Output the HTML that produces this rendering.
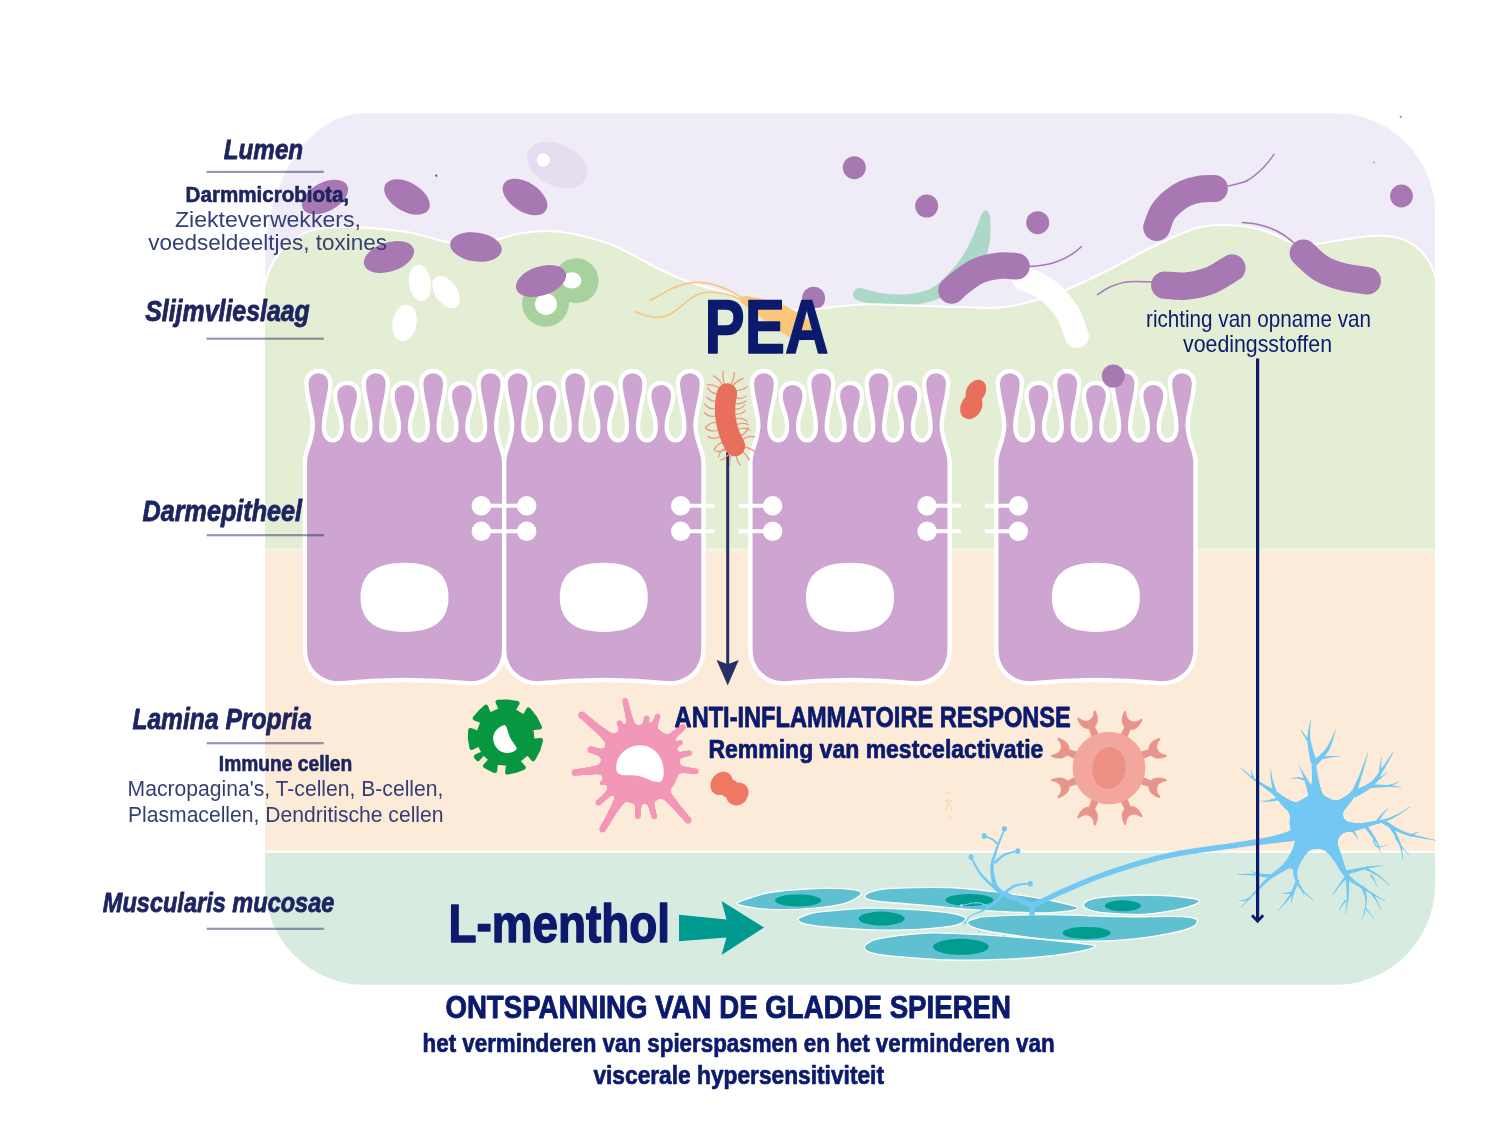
<!DOCTYPE html>
<html lang="nl"><head><meta charset="utf-8"><title>PEA en L-menthol in de darm</title>
<style>
html,body{margin:0;padding:0;background:#fff;}
body{width:1500px;height:1125px;overflow:hidden;font-family:"Liberation Sans",sans-serif;}
svg{display:block;}
text{font-family:"Liberation Sans",sans-serif;}
</style></head><body>
<svg width="1500" height="1125" viewBox="0 0 1500 1125">
<defs>
<filter id="soft" x="-5%" y="-5%" width="110%" height="110%"><feGaussianBlur stdDeviation="0.7"/></filter>
<mask id="panelmask" maskUnits="userSpaceOnUse" x="0" y="0" width="1500" height="1125">
<rect x="0" y="0" width="1500" height="1125" fill="#000"/>
<path d="M365 113.2 H1335 A100 100 0 0 1 1435 213.2 V884.8 A100 100 0 0 1 1335 984.8 H365 A100 100 0 0 1 265 884.8 V263 A100 150 0 0 1 365 113.2 Z" fill="#fff" filter="url(#soft)"/>
</mask>
<filter id="goo" x="-20%" y="-20%" width="140%" height="140%" color-interpolation-filters="sRGB"><feGaussianBlur in="SourceGraphic" stdDeviation="3.2" result="b"/><feColorMatrix in="b" mode="matrix" values="1 0 0 0 0  0 1 0 0 0  0 0 1 0 0  0 0 0 22 -10"/></filter>
<filter id="goo2" x="-20%" y="-20%" width="140%" height="140%" color-interpolation-filters="sRGB"><feGaussianBlur in="SourceGraphic" stdDeviation="2.2" result="b"/><feColorMatrix in="b" mode="matrix" values="1 0 0 0 0  0 1 0 0 0  0 0 1 0 0  0 0 0 22 -10"/></filter>
</defs>
<g mask="url(#panelmask)">
<rect x="250" y="100" width="1200" height="900" fill="#efebf7"/>
<circle cx="813.6" cy="298.2" r="11.5" fill="#a878b3"/>
<path d="M986.0 210.5 C987.3 210.7 988.9 213.1 989.6 215.0 C990.3 216.9 990.3 218.7 990.4 222.0 C990.5 225.3 990.5 230.7 990.2 235.0 C989.9 239.3 989.7 243.0 988.5 248.0 C987.3 253.0 986.1 259.3 983.0 265.0 C979.9 270.7 975.2 277.2 970.0 282.0 C964.8 286.8 957.3 291.2 952.0 294.0 C946.7 296.8 942.5 297.5 938.0 299.0 C933.5 300.5 931.0 301.5 925.3 302.8 C919.6 304.1 911.1 306.2 904.0 306.7 C896.9 307.2 889.0 306.2 882.7 305.6 C876.4 305.0 870.4 303.8 866.0 302.8 C861.6 301.8 858.7 301.2 856.5 299.8 C854.3 298.4 852.9 296.3 852.8 294.5 C852.7 292.7 854.6 290.2 856.0 289.2 C857.4 288.2 856.8 287.6 861.3 288.3 C865.8 289.0 875.6 292.3 882.7 293.3 C889.8 294.3 896.9 294.8 904.0 294.4 C911.1 294.0 920.0 292.2 925.3 290.7 C930.6 289.2 932.0 288.2 936.0 285.3 C940.0 282.4 945.1 277.1 949.0 273.0 C952.9 268.9 956.4 264.8 959.5 260.5 C962.6 256.2 965.2 251.8 967.5 247.5 C969.8 243.2 971.8 238.9 973.5 235.0 C975.2 231.1 976.6 227.5 978.0 224.0 C979.4 220.5 980.5 216.2 981.8 214.0 C983.1 211.8 984.7 210.3 986.0 210.5 Z" fill="#acd8c7"/>
<path d="M250.0 340.0 C251.8 334.2 258.6 313.7 261.0 305.0 C263.4 296.3 263.5 292.9 264.5 288.0 C265.5 283.1 265.9 279.4 267.0 275.8 C268.1 272.2 269.0 269.9 271.0 266.2 C273.0 262.5 276.3 257.0 279.0 253.4 C281.7 249.8 283.7 247.5 287.0 244.6 C290.3 241.7 295.0 238.1 299.0 235.8 C303.0 233.5 306.3 231.9 311.0 230.6 C315.7 229.3 321.3 228.4 327.0 227.8 C332.7 227.2 338.7 227.0 345.0 227.0 C351.3 227.0 354.2 226.7 365.0 227.6 C375.8 228.5 395.8 230.0 410.0 232.5 C424.2 235.0 438.0 240.7 450.0 242.5 C462.0 244.3 470.8 244.9 482.0 243.5 C493.2 242.1 505.7 236.1 517.0 234.0 C528.3 231.9 538.7 230.6 550.0 231.0 C561.3 231.4 573.8 233.8 585.0 236.5 C596.2 239.2 604.3 241.4 617.0 247.0 C629.7 252.6 648.7 264.1 661.0 270.0 C673.3 275.9 680.0 278.6 691.0 282.4 C702.0 286.2 715.5 289.6 727.0 293.0 C738.5 296.4 748.2 300.2 760.0 303.0 C771.8 305.8 784.7 309.5 798.0 310.0 C811.3 310.5 828.5 307.1 840.0 306.2 C851.5 305.2 858.4 304.5 866.7 304.3 C875.0 304.1 882.0 304.6 890.0 304.8 C898.0 305.0 905.2 305.3 914.7 305.6 C924.2 305.9 937.5 306.4 946.7 306.7 C955.9 307.0 962.5 307.0 970.0 307.2 C977.5 307.4 984.8 308.1 992.0 307.9 C999.2 307.6 1006.2 306.9 1013.3 305.7 C1020.4 304.4 1025.8 303.1 1034.7 300.4 C1043.6 297.7 1056.0 294.0 1066.7 289.7 C1077.4 285.4 1089.8 279.1 1098.7 274.8 C1107.6 270.5 1114.8 266.8 1120.0 264.1 C1125.2 261.4 1125.8 260.8 1130.0 258.6 C1134.2 256.4 1139.7 253.5 1145.0 250.8 C1150.3 248.1 1156.5 245.0 1162.0 242.4 C1167.5 239.8 1172.7 237.3 1178.0 235.0 C1183.3 232.7 1189.2 230.0 1194.0 228.5 C1198.8 227.0 1203.2 226.6 1207.0 226.0 C1210.8 225.4 1212.0 225.3 1217.0 225.2 C1222.0 225.1 1229.9 224.9 1236.7 225.5 C1243.5 226.1 1251.6 227.4 1258.0 229.0 C1264.4 230.6 1269.7 232.8 1275.0 235.0 C1280.3 237.2 1285.3 240.4 1290.0 242.0 C1294.7 243.6 1298.3 244.0 1303.0 244.3 C1307.7 244.6 1310.8 244.4 1318.0 243.6 C1325.2 242.8 1338.2 240.4 1346.0 239.2 C1353.8 238.0 1359.7 237.1 1365.0 236.5 C1370.3 235.9 1373.8 235.6 1378.0 235.6 C1382.2 235.6 1386.5 235.9 1390.0 236.4 C1393.5 236.9 1396.0 237.3 1399.3 238.3 C1402.6 239.3 1406.4 240.5 1410.0 242.6 C1413.6 244.7 1417.7 247.6 1421.0 251.0 C1424.3 254.4 1427.3 257.8 1430.0 263.0 C1432.7 268.2 1435.0 274.2 1437.0 282.0 C1439.0 289.8 1441.2 305.3 1442.0 310.0 V560 H255 Z" fill="#e4eed4" stroke="#ffffff" stroke-width="2.1"/>
<rect x="250" y="548.6" width="1200" height="3.4" fill="#f3f3e6"/>
<rect x="250" y="551.7" width="1200" height="299" fill="#fbebd8"/>
<rect x="250" y="850.5" width="1200" height="2.6" fill="#fdfcf8"/>
<rect x="250" y="852.9" width="1200" height="150" fill="#d7ebe1"/>
</g>
<g id="lumen">
<ellipse cx="557" cy="165" rx="32" ry="21" transform="rotate(25 557 165)" fill="#e6deef" />
<circle cx="543.5" cy="160" r="6.5" fill="#fff"/>
<ellipse cx="325" cy="197" rx="25" ry="14.5" transform="rotate(-28 325 197)" fill="#a878b3" />
<ellipse cx="407" cy="197" rx="25" ry="14.5" transform="rotate(30 407 197)" fill="#a878b3" />
<ellipse cx="525" cy="197" rx="25" ry="14.5" transform="rotate(33 525 197)" fill="#a878b3" />
<ellipse cx="389" cy="257" rx="26" ry="14.5" transform="rotate(-18 389 257)" fill="#a878b3" />
<ellipse cx="476" cy="247" rx="26" ry="14.5" transform="rotate(8 476 247)" fill="#a878b3" />
<ellipse cx="420" cy="283" rx="11" ry="18.5" transform="rotate(-8 420 283)" fill="#ffffff" />
<ellipse cx="446" cy="292" rx="11" ry="18" transform="rotate(-35 446 292)" fill="#ffffff" />
<ellipse cx="404.5" cy="323" rx="12" ry="18.5" transform="rotate(10 404.5 323)" fill="#ffffff" />
<circle cx="576.2" cy="280.8" r="22.5" fill="#a9d19d"/>
<circle cx="545.5" cy="303.3" r="23.4" fill="#a9d19d"/>
<ellipse cx="571.8" cy="280.4" rx="9.6" ry="8.1" transform="rotate(0 571.8 280.4)" fill="#fff" />
<ellipse cx="546" cy="304.3" rx="11" ry="10.7" transform="rotate(0 546 304.3)" fill="#fff" />
<path d="M435.2 174.6 l1.8 0.2 l0.4 1.6 l-1.7 0.4 z" fill="#3a4378"/>
<circle cx="1400.7" cy="116.8" r="1.1" fill="#8a8fb0"/><circle cx="1373.9" cy="162.6" r="1.0" fill="#a9a8c8"/>
<ellipse cx="541" cy="281" rx="26" ry="14.5" transform="rotate(-18 541 281)" fill="#a878b3" />
<circle cx="854.3" cy="167.7" r="11.5" fill="#a878b3"/>
<circle cx="926.7" cy="206" r="11.5" fill="#a878b3"/>
<circle cx="1037.7" cy="222.7" r="11.5" fill="#a878b3"/>
<circle cx="1401.5" cy="196" r="11.4" fill="#a878b3"/>
<path d="M1024.0 278.5 C1027.5 280.2 1038.2 283.1 1045.3 288.5 C1052.4 293.9 1061.2 303.1 1066.5 311.0 C1071.8 318.9 1075.1 331.8 1076.8 336.0" fill="none" stroke="#fff" stroke-width="24" stroke-linecap="round"/>
<path d="M1029 266.5 C1040 266 1050 264 1056 262 C1066 258.5 1075 253 1081.6 246.5" fill="none" stroke="#a878b3" stroke-width="1.5" stroke-linecap="round"/>
<path d="M951.5 290.5 C953.2 289.0 957.1 284.9 961.6 281.6 C966.1 278.3 972.3 273.3 978.7 270.6 C985.1 267.9 993.7 266.3 1000.0 265.6 C1006.3 264.9 1013.8 266.2 1016.5 266.3" fill="none" stroke="#a878b3" stroke-width="26.5" stroke-linecap="round"/>
<path d="M1228.0 186.0 C1231.2 185.1 1241.4 183.6 1247.3 180.5 C1253.2 177.4 1258.8 172.0 1263.3 167.7 C1267.8 163.3 1272.2 156.6 1274.0 154.4" fill="none" stroke="#a878b3" stroke-width="1.5" stroke-linecap="round"/>
<path d="M1156.7 227.5 C1157.8 224.9 1160.1 216.5 1163.0 212.0 C1165.9 207.5 1170.2 203.6 1174.0 200.5 C1177.8 197.4 1181.3 195.2 1185.5 193.3 C1189.7 191.4 1194.5 190.1 1199.3 189.3 C1204.1 188.5 1211.8 188.6 1214.3 188.5" fill="none" stroke="#a878b3" stroke-width="27" stroke-linecap="round"/>
<path d="M1152.0 281.9 C1147.7 281.9 1133.3 281.0 1126.3 281.9 C1119.3 282.8 1114.8 284.9 1110.0 287.0 C1105.2 289.1 1099.6 293.4 1097.5 294.7" fill="none" stroke="#a878b3" stroke-width="1.5" stroke-linecap="round"/>
<path d="M1164.7 285.1 C1168.2 285.3 1178.5 286.8 1186.0 286.1 C1193.5 285.4 1201.8 283.8 1209.5 280.8 C1217.2 277.8 1228.2 270.1 1231.9 268.0" fill="none" stroke="#a878b3" stroke-width="27.3" stroke-linecap="round"/>
<path d="M1242.5 222.6 C1245.1 222.9 1253.2 223.5 1258.0 224.5 C1262.8 225.5 1267.1 226.8 1271.3 228.5 C1275.5 230.2 1279.2 232.1 1283.0 234.5 C1286.8 236.9 1292.2 241.6 1294.0 243.0" fill="none" stroke="#a878b3" stroke-width="1.5" stroke-linecap="round"/>
<path d="M1303.3 253.1 C1306.2 255.6 1314.0 264.1 1320.4 268.0 C1326.8 271.9 1333.9 274.4 1341.7 276.5 C1349.5 278.6 1363.0 280.1 1367.3 280.8" fill="none" stroke="#a878b3" stroke-width="27.3" stroke-linecap="round"/>
<g fill="none" stroke="#f9c680" stroke-width="1.6" stroke-linecap="round">
<path d="M743 298.5 C730 290 715 283 700 282.4 C688 282 680 285 673 288 C664 292 658 297 650.2 300.2"/>
<path d="M741 299.5 C730 294 720 292 709 292.2 C700 292.5 696 295 691 298.4 C683 304 678 310 670 314.4 C664 317 658 318 652 317 C646 316 640 314 635 311.8"/>
</g>
<path d="M742.1 303.0 L742.9 303.7 L744.0 304.5 L745.3 305.5 L746.8 306.5 L748.3 307.7 L750.0 308.9 L751.6 310.1 L753.3 311.3 L754.9 312.6 L756.5 313.8 L758.1 315.1 L759.8 316.4 L761.5 317.8 L763.2 319.3 L765.0 320.7 L766.8 322.2 L768.5 323.7 L770.3 325.2 L772.0 326.7 L773.8 327.9 L775.7 329.0 L777.8 330.2 L779.9 331.4 L782.1 332.8 L784.2 334.1 L786.2 335.3 L788.1 336.5 L789.9 337.5 L791.3 338.5 L792.5 339.2 L805.5 317.8 L804.4 317.2 L803.0 316.3 L801.3 315.2 L799.4 314.0 L797.3 312.8 L795.1 311.4 L792.8 310.0 L790.5 308.7 L788.3 307.4 L786.2 306.1 L784.0 305.1 L781.7 304.3 L779.4 303.6 L777.1 302.9 L774.7 302.2 L772.4 301.5 L770.1 300.9 L767.8 300.3 L765.6 299.7 L763.5 299.2 L761.3 298.7 L759.1 298.2 L756.9 297.8 L754.8 297.4 L752.7 297.0 L750.7 296.7 L748.9 296.5 L747.4 296.3 L746.0 296.1 L744.9 296.0Z" fill="#fbc57a"/>
<circle cx="799" cy="328.5" r="12.5" fill="#fbc57a"/>
<circle cx="744.5" cy="300" r="3.8" fill="#fbc57a"/>
<ellipse cx="975.9" cy="391.6" rx="9.5" ry="12.6" transform="rotate(30 975.9 391.6)" fill="#e86f5c" />
<ellipse cx="971.3" cy="406.4" rx="10.4" ry="13.4" transform="rotate(30 971.3 406.4)" fill="#e86f5c" />
</g>
<g id="cells">
<path d="M304.90 649.50 L304.90 462 C304.90 450 311.90 444 312.90 426 C312.90 412.00 306.40 397.00 306.40 383.00 C306.40 376.37 311.77 371.00 318.40 371.00 C325.03 371.00 330.40 376.37 330.40 383.00 C330.40 397.00 323.90 412.00 323.90 426.00 C323.10 445.20 342.40 445.20 341.60 426.00 C341.60 412.00 335.10 408.80 335.10 394.80 C335.10 388.17 340.47 382.80 347.10 382.80 C353.73 382.80 359.10 388.17 359.10 394.80 C359.10 408.80 352.60 412.00 352.60 426.00 C351.80 445.20 371.10 445.20 370.30 426.00 C370.30 412.00 363.80 397.00 363.80 383.00 C363.80 376.37 369.17 371.00 375.80 371.00 C382.43 371.00 387.80 376.37 387.80 383.00 C387.80 397.00 381.30 412.00 381.30 426.00 C380.50 445.20 399.80 445.20 399.00 426.00 C399.00 412.00 392.50 408.80 392.50 394.80 C392.50 388.17 397.87 382.80 404.50 382.80 C411.13 382.80 416.50 388.17 416.50 394.80 C416.50 408.80 410.00 412.00 410.00 426.00 C409.20 445.20 428.50 445.20 427.70 426.00 C427.70 412.00 421.20 397.00 421.20 383.00 C421.20 376.37 426.57 371.00 433.20 371.00 C439.83 371.00 445.20 376.37 445.20 383.00 C445.20 397.00 438.70 412.00 438.70 426.00 C437.90 445.20 457.20 445.20 456.40 426.00 C456.40 412.00 449.90 408.80 449.90 394.80 C449.90 388.17 455.27 382.80 461.90 382.80 C468.53 382.80 473.90 388.17 473.90 394.80 C473.90 408.80 467.40 412.00 467.40 426.00 C466.60 445.20 485.90 445.20 485.10 426.00 C485.10 412.00 478.60 397.00 478.60 383.00 C478.60 376.37 483.97 371.00 490.60 371.00 C497.23 371.00 502.60 376.37 502.60 383.00 C502.60 397.00 496.10 412.00 496.10 426.00 C497.10 444 504.10 450 504.10 462 L504.10 649.50 C504.10 669.90 488.80 683.50 470.10 683.50 Q404.50 676.50 338.90 683.50 C320.20 683.50 304.90 669.90 304.90 649.50 Z" fill="#cda5d0" stroke="#ffffff" stroke-width="4.3" stroke-linejoin="round"/>
<path d="M360.5 597.3 C360.5 574.4639999999999 374.58 562.6999999999999 404.5 562.6999999999999 C434.42 562.6999999999999 448.5 574.4639999999999 448.5 597.3 C448.5 620.136 434.42 631.9 404.5 631.9 C374.58 631.9 360.5 620.136 360.5 597.3 Z" fill="#ffffff"/>
<path d="M504.20 649.50 L504.20 462 C504.20 450 511.20 444 512.20 426 C512.20 412.00 505.70 397.00 505.70 383.00 C505.70 376.37 511.07 371.00 517.70 371.00 C524.33 371.00 529.70 376.37 529.70 383.00 C529.70 397.00 523.20 412.00 523.20 426.00 C522.40 445.20 541.70 445.20 540.90 426.00 C540.90 412.00 534.40 408.80 534.40 394.80 C534.40 388.17 539.77 382.80 546.40 382.80 C553.03 382.80 558.40 388.17 558.40 394.80 C558.40 408.80 551.90 412.00 551.90 426.00 C551.10 445.20 570.40 445.20 569.60 426.00 C569.60 412.00 563.10 397.00 563.10 383.00 C563.10 376.37 568.47 371.00 575.10 371.00 C581.73 371.00 587.10 376.37 587.10 383.00 C587.10 397.00 580.60 412.00 580.60 426.00 C579.80 445.20 599.10 445.20 598.30 426.00 C598.30 412.00 591.80 408.80 591.80 394.80 C591.80 388.17 597.17 382.80 603.80 382.80 C610.43 382.80 615.80 388.17 615.80 394.80 C615.80 408.80 609.30 412.00 609.30 426.00 C608.50 445.20 627.80 445.20 627.00 426.00 C627.00 412.00 620.50 397.00 620.50 383.00 C620.50 376.37 625.87 371.00 632.50 371.00 C639.13 371.00 644.50 376.37 644.50 383.00 C644.50 397.00 638.00 412.00 638.00 426.00 C637.20 445.20 656.50 445.20 655.70 426.00 C655.70 412.00 649.20 408.80 649.20 394.80 C649.20 388.17 654.57 382.80 661.20 382.80 C667.83 382.80 673.20 388.17 673.20 394.80 C673.20 408.80 666.70 412.00 666.70 426.00 C665.90 445.20 685.20 445.20 684.40 426.00 C684.40 412.00 677.90 397.00 677.90 383.00 C677.90 376.37 683.27 371.00 689.90 371.00 C696.53 371.00 701.90 376.37 701.90 383.00 C701.90 397.00 695.40 412.00 695.40 426.00 C696.40 444 703.40 450 703.40 462 L703.40 649.50 C703.40 669.90 688.10 683.50 669.40 683.50 Q603.80 676.50 538.20 683.50 C519.50 683.50 504.20 669.90 504.20 649.50 Z" fill="#cda5d0" stroke="#ffffff" stroke-width="4.3" stroke-linejoin="round"/>
<path d="M559.8 597.3 C559.8 574.4639999999999 573.88 562.6999999999999 603.8 562.6999999999999 C633.7199999999999 562.6999999999999 647.8 574.4639999999999 647.8 597.3 C647.8 620.136 633.7199999999999 631.9 603.8 631.9 C573.88 631.9 559.8 620.136 559.8 597.3 Z" fill="#ffffff"/>
<path d="M750.40 649.50 L750.40 462 C750.40 450 757.40 444 758.40 426 C758.40 412.00 751.90 397.00 751.90 383.00 C751.90 376.37 757.27 371.00 763.90 371.00 C770.53 371.00 775.90 376.37 775.90 383.00 C775.90 397.00 769.40 412.00 769.40 426.00 C768.60 445.20 787.90 445.20 787.10 426.00 C787.10 412.00 780.60 408.80 780.60 394.80 C780.60 388.17 785.97 382.80 792.60 382.80 C799.23 382.80 804.60 388.17 804.60 394.80 C804.60 408.80 798.10 412.00 798.10 426.00 C797.30 445.20 816.60 445.20 815.80 426.00 C815.80 412.00 809.30 397.00 809.30 383.00 C809.30 376.37 814.67 371.00 821.30 371.00 C827.93 371.00 833.30 376.37 833.30 383.00 C833.30 397.00 826.80 412.00 826.80 426.00 C826.00 445.20 845.30 445.20 844.50 426.00 C844.50 412.00 838.00 408.80 838.00 394.80 C838.00 388.17 843.37 382.80 850.00 382.80 C856.63 382.80 862.00 388.17 862.00 394.80 C862.00 408.80 855.50 412.00 855.50 426.00 C854.70 445.20 874.00 445.20 873.20 426.00 C873.20 412.00 866.70 397.00 866.70 383.00 C866.70 376.37 872.07 371.00 878.70 371.00 C885.33 371.00 890.70 376.37 890.70 383.00 C890.70 397.00 884.20 412.00 884.20 426.00 C883.40 445.20 902.70 445.20 901.90 426.00 C901.90 412.00 895.40 408.80 895.40 394.80 C895.40 388.17 900.77 382.80 907.40 382.80 C914.03 382.80 919.40 388.17 919.40 394.80 C919.40 408.80 912.90 412.00 912.90 426.00 C912.10 445.20 931.40 445.20 930.60 426.00 C930.60 412.00 924.10 397.00 924.10 383.00 C924.10 376.37 929.47 371.00 936.10 371.00 C942.73 371.00 948.10 376.37 948.10 383.00 C948.10 397.00 941.60 412.00 941.60 426.00 C942.60 444 949.60 450 949.60 462 L949.60 649.50 C949.60 669.90 934.30 683.50 915.60 683.50 Q850.00 676.50 784.40 683.50 C765.70 683.50 750.40 669.90 750.40 649.50 Z" fill="#cda5d0" stroke="#ffffff" stroke-width="4.3" stroke-linejoin="round"/>
<path d="M806.0 597.3 C806.0 574.4639999999999 820.08 562.6999999999999 850.0 562.6999999999999 C879.92 562.6999999999999 894.0 574.4639999999999 894.0 597.3 C894.0 620.136 879.92 631.9 850.0 631.9 C820.08 631.9 806.0 620.136 806.0 597.3 Z" fill="#ffffff"/>
<path d="M996.30 649.50 L996.30 462 C996.30 450 1003.30 444 1004.30 426 C1004.30 412.00 997.80 397.00 997.80 383.00 C997.80 376.37 1003.17 371.00 1009.80 371.00 C1016.43 371.00 1021.80 376.37 1021.80 383.00 C1021.80 397.00 1015.30 412.00 1015.30 426.00 C1014.50 445.20 1033.80 445.20 1033.00 426.00 C1033.00 412.00 1026.50 408.80 1026.50 394.80 C1026.50 388.17 1031.87 382.80 1038.50 382.80 C1045.13 382.80 1050.50 388.17 1050.50 394.80 C1050.50 408.80 1044.00 412.00 1044.00 426.00 C1043.20 445.20 1062.50 445.20 1061.70 426.00 C1061.70 412.00 1055.20 397.00 1055.20 383.00 C1055.20 376.37 1060.57 371.00 1067.20 371.00 C1073.83 371.00 1079.20 376.37 1079.20 383.00 C1079.20 397.00 1072.70 412.00 1072.70 426.00 C1071.90 445.20 1091.20 445.20 1090.40 426.00 C1090.40 412.00 1083.90 408.80 1083.90 394.80 C1083.90 388.17 1089.27 382.80 1095.90 382.80 C1102.53 382.80 1107.90 388.17 1107.90 394.80 C1107.90 408.80 1101.40 412.00 1101.40 426.00 C1100.60 445.20 1119.90 445.20 1119.10 426.00 C1119.10 412.00 1112.60 397.00 1112.60 383.00 C1112.60 376.37 1117.97 371.00 1124.60 371.00 C1131.23 371.00 1136.60 376.37 1136.60 383.00 C1136.60 397.00 1130.10 412.00 1130.10 426.00 C1129.30 445.20 1148.60 445.20 1147.80 426.00 C1147.80 412.00 1141.30 408.80 1141.30 394.80 C1141.30 388.17 1146.67 382.80 1153.30 382.80 C1159.93 382.80 1165.30 388.17 1165.30 394.80 C1165.30 408.80 1158.80 412.00 1158.80 426.00 C1158.00 445.20 1177.30 445.20 1176.50 426.00 C1176.50 412.00 1170.00 397.00 1170.00 383.00 C1170.00 376.37 1175.37 371.00 1182.00 371.00 C1188.63 371.00 1194.00 376.37 1194.00 383.00 C1194.00 397.00 1187.50 412.00 1187.50 426.00 C1188.50 444 1195.50 450 1195.50 462 L1195.50 649.50 C1195.50 669.90 1180.20 683.50 1161.50 683.50 Q1095.90 676.50 1030.30 683.50 C1011.60 683.50 996.30 669.90 996.30 649.50 Z" fill="#cda5d0" stroke="#ffffff" stroke-width="4.3" stroke-linejoin="round"/>
<path d="M1051.8999999999999 597.3 C1051.8999999999999 574.4639999999999 1065.9799999999998 562.6999999999999 1095.8999999999999 562.6999999999999 C1125.82 562.6999999999999 1139.8999999999999 574.4639999999999 1139.8999999999999 597.3 C1139.8999999999999 620.136 1125.82 631.9 1095.8999999999999 631.9 C1065.9799999999998 631.9 1051.8999999999999 620.136 1051.8999999999999 597.3 Z" fill="#ffffff"/>
<line x1="481.3" y1="505.8" x2="526.7" y2="505.8" stroke="#fff" stroke-width="4.0"/>
<circle cx="481.3" cy="505.8" r="9.7" fill="#fff"/>
<circle cx="526.7" cy="505.8" r="9.7" fill="#fff"/>
<line x1="481.3" y1="531.3" x2="526.7" y2="531.3" stroke="#fff" stroke-width="4.0"/>
<circle cx="481.3" cy="531.3" r="9.7" fill="#fff"/>
<circle cx="526.7" cy="531.3" r="9.7" fill="#fff"/>
<line x1="680.7" y1="505.8" x2="714.5" y2="505.8" stroke="#fff" stroke-width="4.0"/>
<circle cx="680.7" cy="505.8" r="9.7" fill="#fff"/>
<line x1="680.7" y1="531.3" x2="714.5" y2="531.3" stroke="#fff" stroke-width="4.0"/>
<circle cx="680.7" cy="531.3" r="9.7" fill="#fff"/>
<line x1="738.7" y1="505.8" x2="772.6" y2="505.8" stroke="#fff" stroke-width="4.0"/>
<circle cx="772.6" cy="505.8" r="9.7" fill="#fff"/>
<line x1="738.7" y1="531.3" x2="772.6" y2="531.3" stroke="#fff" stroke-width="4.0"/>
<circle cx="772.6" cy="531.3" r="9.7" fill="#fff"/>
<line x1="927.1" y1="505.8" x2="961" y2="505.8" stroke="#fff" stroke-width="4.0"/>
<circle cx="927.1" cy="505.8" r="9.7" fill="#fff"/>
<line x1="927.1" y1="531.3" x2="961" y2="531.3" stroke="#fff" stroke-width="4.0"/>
<circle cx="927.1" cy="531.3" r="9.7" fill="#fff"/>
<line x1="985" y1="505.8" x2="1018.4" y2="505.8" stroke="#fff" stroke-width="4.0"/>
<circle cx="1018.4" cy="505.8" r="9.7" fill="#fff"/>
<line x1="985" y1="531.3" x2="1018.4" y2="531.3" stroke="#fff" stroke-width="4.0"/>
<circle cx="1018.4" cy="531.3" r="9.7" fill="#fff"/>
</g>
<line x1="727.7" y1="452" x2="727.7" y2="666" stroke="#263064" stroke-width="3.0"/>
<path d="M716.6 660 L727.7 664.3 L738.8 660 L727.7 685.4 Z" fill="#263064"/>
<g id="redbac">
<path d="M718.7 393.8 Q711.5 394.3 707.7 388.1 M734.4 397.1 Q740.2 400.3 746.0 396.2 M717.6 401.0 Q711.1 401.9 706.7 397.3 M733.5 402.8 Q740.5 405.3 746.0 401.1 M717.1 408.3 Q709.6 410.7 704.5 403.9 M733.1 408.5 Q739.6 410.8 744.6 404.9 M717.4 415.4 Q710.0 418.2 704.4 412.7 M733.3 414.1 Q740.6 415.1 745.3 410.6 M718.2 422.4 Q709.8 421.8 705.4 427.9 M734.0 419.7 Q741.0 416.4 747.1 421.2 M719.7 429.2 Q712.7 433.3 706.1 428.9 M735.2 425.2 Q742.2 421.8 748.4 424.6 M721.7 435.8 Q715.0 440.5 708.0 436.6 M736.8 430.6 Q743.0 425.9 749.9 430.3 M724.1 442.1 Q716.7 443.3 714.1 450.1 M738.8 435.7 Q746.0 435.1 748.0 427.5 M727.1 448.2 Q720.1 449.5 718.4 456.9 M741.2 440.6 Q747.6 435.1 754.6 436.9 M727 392 Q713.0 383.7 707.3 384.8 M727 392 Q719.0 377.8 713.5 375.9 M727 392 Q721.3 376.8 723.4 371.3 M727 392 Q735.3 378.0 734.2 372.3 M727 392 Q737.3 379.4 743.1 378.5 M727 392 Q743.2 390.8 747.3 386.6 M735 446 Q750.3 447.0 754.3 451.2 M735 446 Q747.7 454.5 749.1 460.1 M735 446 Q736.0 461.3 740.2 465.3 M735 446 Q728.2 459.7 729.8 465.3 M735 446 Q726.5 458.7 720.9 460.1 M735 446 Q721.3 452.8 715.7 451.2" fill="none" stroke="#ef9683" stroke-width="1.3" stroke-linecap="round"/>
<path d="M727 393.5 C722.5 412 726.5 431 735 446" fill="none" stroke="#e86f5c" stroke-width="20.5" stroke-linecap="round"/>
</g>
<circle cx="1113.3" cy="376" r="11.5" fill="#a878b3"/>
<g id="immune">
<path d="M470.4 730.2 L478.4 733.4 L483.1 721.3 L475.0 718.3 L480.2 712.3 L486.0 707.0 L489.2 715.0 L501.3 709.9 L497.9 702.0 L507.7 701.7 L517.3 703.3 L512.9 710.6 L524.3 717.2 L528.5 709.7 L535.1 717.9 L539.7 727.3 L531.1 727.9 L532.3 741.1 L540.8 740.2 L538.0 750.0 L533.2 759.0 L527.7 752.4 L517.7 761.1 L523.5 767.5 L515.7 770.5 L507.4 772.3 L508.5 763.8 L495.8 762.2 L494.9 770.8 L490.5 768.7 L485.3 765.9 L491.2 759.7 L483.6 752.6 L477.8 758.9 L477.1 757.7 L476.2 756.7 L484.0 753.0 L479.4 743.7 L471.7 747.6 L470.2 738.3 Z" fill="#069740" stroke="#069740" stroke-width="4.6" stroke-linejoin="round"/>
<path d="M504.8 725 C499 726 492.5 732 493.2 739.5 C494 748 501 753.5 508 753 C512 752.7 516 751 516.8 748.6 C516.5 746 512.5 742.5 510.1 737.4 C508 733 507.5 727 504.8 725 Z" fill="#fff"/>
<circle cx="640" cy="764.5" r="39.5" fill="#f397b8"/>
<circle cx="581.7" cy="715.0" r="3.58" fill="#f397b8"/>
<circle cx="625.1" cy="700.7" r="2.80" fill="#f397b8"/>
<circle cx="619.6" cy="723.1" r="2.91" fill="#f397b8"/>
<circle cx="646.6" cy="718.3" r="2.80" fill="#f397b8"/>
<circle cx="657.5" cy="716.6" r="2.80" fill="#f397b8"/>
<circle cx="682.6" cy="727.4" r="3.14" fill="#f397b8"/>
<circle cx="680.2" cy="742.5" r="2.58" fill="#f397b8"/>
<circle cx="689.2" cy="753.1" r="2.91" fill="#f397b8"/>
<circle cx="696.0" cy="771.3" r="2.80" fill="#f397b8"/>
<circle cx="688.1" cy="820.2" r="3.36" fill="#f397b8"/>
<circle cx="654.2" cy="816.2" r="2.91" fill="#f397b8"/>
<circle cx="637.8" cy="816.1" r="2.91" fill="#f397b8"/>
<circle cx="602.7" cy="829.1" r="3.36" fill="#f397b8"/>
<circle cx="598.4" cy="802.7" r="2.91" fill="#f397b8"/>
<circle cx="602.1" cy="783.0" r="2.35" fill="#f397b8"/>
<circle cx="575.0" cy="772.6" r="3.36" fill="#f397b8"/>
<circle cx="590.9" cy="749.7" r="3.36" fill="#f397b8"/>
<g filter="url(#goo2)"><circle cx="640" cy="764.5" r="39.5" fill="#f397b8"/><path d="M621.0 738.9 L619.3 738.0 L617.1 736.7 L614.4 735.1 L611.5 733.3 L608.5 731.3 L605.5 729.3 L602.8 727.3 L600.3 725.5 L598.0 723.7 L595.6 721.8 L593.2 719.9 L590.9 718.0 L588.8 716.3 L586.9 714.7 L585.3 713.3 L584.1 712.3 L579.4 717.8 L580.6 718.8 L582.2 720.1 L584.1 721.8 L586.2 723.6 L588.4 725.5 L590.7 727.6 L592.9 729.7 L595.1 731.7 L597.3 733.8 L599.7 736.2 L602.1 738.8 L604.6 741.4 L606.8 744.0 L608.8 746.4 L610.5 748.4 L611.7 749.9Z M638.7 733.0 L638.0 731.6 L637.2 729.8 L636.3 727.6 L635.3 725.2 L634.3 722.7 L633.4 720.1 L632.6 717.6 L631.9 715.4 L631.2 713.3 L630.6 711.1 L630.0 708.8 L629.4 706.7 L628.9 704.6 L628.5 702.8 L628.1 701.3 L627.9 700.1 L622.4 701.4 L622.7 702.5 L623.0 704.1 L623.4 705.9 L623.9 708.0 L624.4 710.1 L624.8 712.4 L625.2 714.7 L625.6 716.9 L626.0 719.2 L626.3 721.7 L626.6 724.5 L626.9 727.2 L627.1 729.8 L627.2 732.2 L627.2 734.2 L627.2 735.6Z M629.9 734.9 L629.5 734.3 L628.9 733.5 L628.2 732.6 L627.5 731.5 L626.8 730.4 L626.1 729.2 L625.5 728.2 L625.0 727.3 L624.5 726.4 L624.1 725.6 L623.7 724.8 L623.3 724.1 L623.0 723.4 L622.7 722.7 L622.4 722.2 L622.2 721.8 L617.0 724.4 L617.2 724.8 L617.4 725.3 L617.7 725.9 L618.1 726.6 L618.4 727.4 L618.8 728.2 L619.2 729.1 L619.6 729.9 L620.0 730.9 L620.5 732.0 L620.9 733.2 L621.4 734.5 L621.8 735.7 L622.2 736.8 L622.5 737.8 L622.7 738.5Z M648.7 734.4 L648.6 733.7 L648.5 732.7 L648.5 731.4 L648.4 730.1 L648.4 728.8 L648.5 727.4 L648.5 726.2 L648.6 725.1 L648.7 724.1 L648.8 723.1 L648.9 722.2 L649.0 721.3 L649.1 720.5 L649.2 719.8 L649.3 719.1 L649.4 718.7 L643.8 717.9 L643.8 718.3 L643.7 719.0 L643.6 719.7 L643.4 720.5 L643.3 721.4 L643.1 722.3 L643.0 723.3 L642.8 724.2 L642.5 725.3 L642.3 726.5 L641.9 727.8 L641.5 729.1 L641.1 730.4 L640.7 731.5 L640.4 732.5 L640.1 733.2Z M654.7 736.9 L654.9 736.0 L655.1 734.8 L655.4 733.3 L655.7 731.8 L656.1 730.1 L656.5 728.5 L657.0 727.0 L657.4 725.7 L657.8 724.5 L658.2 723.3 L658.6 722.1 L658.9 721.0 L659.3 719.9 L659.7 719.0 L659.9 718.2 L660.2 717.6 L654.9 715.7 L654.7 716.3 L654.4 717.1 L654.1 718.0 L653.7 719.0 L653.2 720.1 L652.8 721.3 L652.3 722.5 L651.8 723.7 L651.2 724.9 L650.6 726.3 L649.9 727.8 L649.1 729.3 L648.4 730.8 L647.7 732.1 L647.1 733.1 L646.6 733.9Z M667.3 748.6 L667.9 747.6 L668.8 746.3 L669.9 744.8 L671.2 743.2 L672.5 741.6 L673.9 740.0 L675.2 738.6 L676.5 737.3 L677.6 736.2 L678.8 735.0 L680.0 733.9 L681.2 732.8 L682.3 731.9 L683.2 731.0 L684.1 730.3 L684.7 729.7 L680.6 725.0 L679.9 725.5 L679.1 726.3 L678.1 727.1 L677.0 728.1 L675.8 729.1 L674.5 730.1 L673.2 731.1 L671.9 732.1 L670.5 733.1 L668.9 734.3 L667.1 735.4 L665.3 736.5 L663.6 737.6 L661.9 738.5 L660.5 739.2 L659.5 739.7Z M669.1 753.2 L669.7 752.7 L670.4 752.1 L671.3 751.3 L672.2 750.6 L673.3 749.8 L674.3 749.1 L675.3 748.4 L676.2 747.9 L677.0 747.4 L677.7 746.9 L678.5 746.4 L679.3 746.0 L680.0 745.6 L680.6 745.3 L681.1 745.0 L681.5 744.8 L679.0 740.3 L678.6 740.5 L678.1 740.8 L677.5 741.1 L676.8 741.5 L676.0 741.9 L675.2 742.3 L674.4 742.7 L673.6 743.1 L672.6 743.5 L671.5 744.0 L670.4 744.5 L669.2 744.9 L668.0 745.3 L666.9 745.7 L666.0 746.0 L665.3 746.1Z M671.2 761.7 L672.0 761.3 L673.1 760.9 L674.5 760.3 L675.9 759.8 L677.5 759.3 L679.1 758.7 L680.5 758.3 L681.8 757.9 L683.0 757.6 L684.2 757.3 L685.4 757.0 L686.5 756.7 L687.5 756.4 L688.4 756.2 L689.2 756.0 L689.8 755.9 L688.5 750.2 L687.9 750.4 L687.1 750.5 L686.2 750.8 L685.1 751.0 L684.0 751.2 L682.8 751.5 L681.6 751.7 L680.4 752.0 L679.1 752.2 L677.6 752.4 L676.0 752.7 L674.3 752.9 L672.8 753.0 L671.3 753.1 L670.1 753.2 L669.2 753.2Z M670.0 774.7 L671.1 774.4 L672.7 774.1 L674.5 773.8 L676.5 773.5 L678.6 773.3 L680.7 773.2 L682.7 773.1 L684.4 773.1 L686.0 773.2 L687.7 773.3 L689.3 773.4 L690.9 773.5 L692.4 773.7 L693.7 773.8 L694.8 773.9 L695.7 774.0 L696.4 768.5 L695.5 768.4 L694.4 768.2 L693.1 768.1 L691.6 767.9 L690.0 767.6 L688.4 767.3 L686.8 767.0 L685.2 766.7 L683.5 766.3 L681.6 765.8 L679.6 765.2 L677.6 764.5 L675.7 763.7 L674.0 763.0 L672.6 762.3 L671.6 761.8Z M655.3 792.2 L656.7 793.4 L658.6 794.9 L660.8 796.8 L663.3 798.9 L665.7 801.2 L668.1 803.5 L670.4 805.8 L672.4 807.8 L674.3 809.8 L676.3 811.9 L678.2 814.0 L680.1 816.1 L681.8 818.0 L683.3 819.8 L684.6 821.2 L685.6 822.4 L690.6 818.0 L689.7 816.8 L688.4 815.4 L686.9 813.6 L685.2 811.6 L683.4 809.5 L681.6 807.2 L679.8 805.0 L678.1 802.9 L676.4 800.6 L674.5 798.0 L672.6 795.3 L670.7 792.5 L668.9 789.8 L667.4 787.3 L666.2 785.2 L665.2 783.7Z M644.3 795.5 L644.7 796.4 L645.2 797.7 L645.8 799.2 L646.4 800.9 L647.1 802.6 L647.7 804.4 L648.2 806.0 L648.7 807.5 L649.1 808.9 L649.5 810.3 L649.9 811.7 L650.3 813.0 L650.7 814.2 L651.0 815.3 L651.2 816.3 L651.4 817.0 L657.0 815.4 L656.8 814.7 L656.6 813.8 L656.3 812.7 L656.0 811.4 L655.6 810.1 L655.2 808.7 L654.9 807.3 L654.5 805.9 L654.2 804.4 L653.8 802.7 L653.4 800.9 L653.1 799.0 L652.7 797.3 L652.5 795.7 L652.3 794.3 L652.1 793.3Z M634.7 795.3 L634.8 796.2 L634.9 797.5 L635.0 799.0 L635.0 800.7 L635.1 802.4 L635.1 804.1 L635.2 805.7 L635.2 807.1 L635.1 808.4 L635.1 809.7 L635.1 811.0 L635.1 812.3 L635.0 813.4 L635.0 814.4 L634.9 815.3 L634.9 816.0 L640.7 816.2 L640.8 815.6 L640.8 814.7 L640.8 813.7 L640.9 812.5 L641.0 811.3 L641.0 810.0 L641.1 808.7 L641.2 807.4 L641.3 806.0 L641.5 804.4 L641.7 802.7 L641.9 800.9 L642.1 799.3 L642.3 797.8 L642.6 796.6 L642.7 795.6Z M618.3 787.7 L617.7 789.5 L616.9 791.9 L615.9 794.7 L614.7 797.8 L613.4 801.0 L612.0 804.1 L610.7 807.1 L609.4 809.7 L608.1 812.3 L606.8 814.9 L605.4 817.4 L604.0 819.9 L602.7 822.3 L601.5 824.3 L600.5 826.1 L599.8 827.4 L605.6 830.8 L606.4 829.4 L607.4 827.7 L608.6 825.7 L609.9 823.4 L611.4 820.9 L613.0 818.4 L614.5 816.0 L616.1 813.6 L617.8 811.2 L619.6 808.5 L621.7 805.8 L623.8 803.0 L625.8 800.5 L627.8 798.2 L629.4 796.3 L630.7 794.9Z M614.0 782.1 L613.3 783.0 L612.4 784.2 L611.2 785.5 L610.0 787.1 L608.6 788.6 L607.2 790.1 L605.8 791.6 L604.6 792.8 L603.5 793.9 L602.3 795.1 L601.1 796.3 L600.0 797.4 L598.9 798.4 L597.9 799.3 L597.1 800.0 L596.5 800.6 L600.4 804.9 L601.0 804.3 L601.9 803.5 L602.8 802.7 L603.9 801.7 L605.1 800.6 L606.4 799.5 L607.6 798.4 L608.9 797.4 L610.2 796.3 L611.7 795.1 L613.3 793.8 L615.0 792.6 L616.6 791.4 L618.1 790.4 L619.4 789.5 L620.3 788.9Z M610.7 775.1 L610.2 775.4 L609.6 775.9 L608.9 776.4 L608.1 776.9 L607.3 777.5 L606.5 778.0 L605.7 778.5 L605.0 778.8 L604.4 779.2 L603.8 779.5 L603.2 779.8 L602.7 780.1 L602.2 780.3 L601.7 780.5 L601.4 780.7 L601.1 780.9 L603.1 785.1 L603.4 784.9 L603.8 784.8 L604.2 784.6 L604.7 784.3 L605.3 784.1 L605.9 783.8 L606.5 783.5 L607.1 783.2 L607.9 782.9 L608.7 782.6 L609.6 782.3 L610.6 781.9 L611.5 781.7 L612.3 781.4 L613.1 781.2 L613.6 781.1Z M608.4 761.8 L607.0 762.3 L605.1 763.0 L602.8 763.8 L600.2 764.5 L597.5 765.2 L594.8 765.9 L592.3 766.5 L590.0 766.9 L587.8 767.3 L585.6 767.7 L583.3 768.1 L581.2 768.4 L579.1 768.7 L577.3 768.9 L575.8 769.1 L574.6 769.3 L575.4 775.9 L576.6 775.8 L578.1 775.6 L580.0 775.4 L582.0 775.1 L584.2 774.9 L586.4 774.7 L588.7 774.5 L590.9 774.4 L593.3 774.3 L595.9 774.2 L598.6 774.2 L601.4 774.2 L604.1 774.3 L606.5 774.5 L608.5 774.7 L610.0 774.8Z M611.9 750.4 L610.9 750.4 L609.6 750.3 L608.1 750.1 L606.4 749.9 L604.7 749.7 L603.0 749.3 L601.4 749.0 L600.0 748.7 L598.8 748.4 L597.6 748.1 L596.4 747.8 L595.2 747.4 L594.2 747.1 L593.3 746.9 L592.5 746.6 L591.9 746.5 L589.9 752.9 L590.5 753.1 L591.3 753.3 L592.2 753.6 L593.3 753.9 L594.4 754.3 L595.6 754.7 L596.8 755.1 L598.0 755.5 L599.3 756.0 L600.8 756.6 L602.4 757.3 L603.9 758.0 L605.5 758.8 L606.8 759.5 L608.0 760.1 L608.8 760.6Z" fill="#f397b8"/></g>
<path d="M621.0 738.9 L619.3 738.0 L617.1 736.7 L614.4 735.1 L611.5 733.3 L608.5 731.3 L605.5 729.3 L602.8 727.3 L600.3 725.5 L598.0 723.7 L595.6 721.8 L593.2 719.9 L590.9 718.0 L588.8 716.3 L586.9 714.7 L585.3 713.3 L584.1 712.3 L579.4 717.8 L580.6 718.8 L582.2 720.1 L584.1 721.8 L586.2 723.6 L588.4 725.5 L590.7 727.6 L592.9 729.7 L595.1 731.7 L597.3 733.8 L599.7 736.2 L602.1 738.8 L604.6 741.4 L606.8 744.0 L608.8 746.4 L610.5 748.4 L611.7 749.9Z M638.7 733.0 L638.0 731.6 L637.2 729.8 L636.3 727.6 L635.3 725.2 L634.3 722.7 L633.4 720.1 L632.6 717.6 L631.9 715.4 L631.2 713.3 L630.6 711.1 L630.0 708.8 L629.4 706.7 L628.9 704.6 L628.5 702.8 L628.1 701.3 L627.9 700.1 L622.4 701.4 L622.7 702.5 L623.0 704.1 L623.4 705.9 L623.9 708.0 L624.4 710.1 L624.8 712.4 L625.2 714.7 L625.6 716.9 L626.0 719.2 L626.3 721.7 L626.6 724.5 L626.9 727.2 L627.1 729.8 L627.2 732.2 L627.2 734.2 L627.2 735.6Z M629.9 734.9 L629.5 734.3 L628.9 733.5 L628.2 732.6 L627.5 731.5 L626.8 730.4 L626.1 729.2 L625.5 728.2 L625.0 727.3 L624.5 726.4 L624.1 725.6 L623.7 724.8 L623.3 724.1 L623.0 723.4 L622.7 722.7 L622.4 722.2 L622.2 721.8 L617.0 724.4 L617.2 724.8 L617.4 725.3 L617.7 725.9 L618.1 726.6 L618.4 727.4 L618.8 728.2 L619.2 729.1 L619.6 729.9 L620.0 730.9 L620.5 732.0 L620.9 733.2 L621.4 734.5 L621.8 735.7 L622.2 736.8 L622.5 737.8 L622.7 738.5Z M648.7 734.4 L648.6 733.7 L648.5 732.7 L648.5 731.4 L648.4 730.1 L648.4 728.8 L648.5 727.4 L648.5 726.2 L648.6 725.1 L648.7 724.1 L648.8 723.1 L648.9 722.2 L649.0 721.3 L649.1 720.5 L649.2 719.8 L649.3 719.1 L649.4 718.7 L643.8 717.9 L643.8 718.3 L643.7 719.0 L643.6 719.7 L643.4 720.5 L643.3 721.4 L643.1 722.3 L643.0 723.3 L642.8 724.2 L642.5 725.3 L642.3 726.5 L641.9 727.8 L641.5 729.1 L641.1 730.4 L640.7 731.5 L640.4 732.5 L640.1 733.2Z M654.7 736.9 L654.9 736.0 L655.1 734.8 L655.4 733.3 L655.7 731.8 L656.1 730.1 L656.5 728.5 L657.0 727.0 L657.4 725.7 L657.8 724.5 L658.2 723.3 L658.6 722.1 L658.9 721.0 L659.3 719.9 L659.7 719.0 L659.9 718.2 L660.2 717.6 L654.9 715.7 L654.7 716.3 L654.4 717.1 L654.1 718.0 L653.7 719.0 L653.2 720.1 L652.8 721.3 L652.3 722.5 L651.8 723.7 L651.2 724.9 L650.6 726.3 L649.9 727.8 L649.1 729.3 L648.4 730.8 L647.7 732.1 L647.1 733.1 L646.6 733.9Z M667.3 748.6 L667.9 747.6 L668.8 746.3 L669.9 744.8 L671.2 743.2 L672.5 741.6 L673.9 740.0 L675.2 738.6 L676.5 737.3 L677.6 736.2 L678.8 735.0 L680.0 733.9 L681.2 732.8 L682.3 731.9 L683.2 731.0 L684.1 730.3 L684.7 729.7 L680.6 725.0 L679.9 725.5 L679.1 726.3 L678.1 727.1 L677.0 728.1 L675.8 729.1 L674.5 730.1 L673.2 731.1 L671.9 732.1 L670.5 733.1 L668.9 734.3 L667.1 735.4 L665.3 736.5 L663.6 737.6 L661.9 738.5 L660.5 739.2 L659.5 739.7Z M669.1 753.2 L669.7 752.7 L670.4 752.1 L671.3 751.3 L672.2 750.6 L673.3 749.8 L674.3 749.1 L675.3 748.4 L676.2 747.9 L677.0 747.4 L677.7 746.9 L678.5 746.4 L679.3 746.0 L680.0 745.6 L680.6 745.3 L681.1 745.0 L681.5 744.8 L679.0 740.3 L678.6 740.5 L678.1 740.8 L677.5 741.1 L676.8 741.5 L676.0 741.9 L675.2 742.3 L674.4 742.7 L673.6 743.1 L672.6 743.5 L671.5 744.0 L670.4 744.5 L669.2 744.9 L668.0 745.3 L666.9 745.7 L666.0 746.0 L665.3 746.1Z M671.2 761.7 L672.0 761.3 L673.1 760.9 L674.5 760.3 L675.9 759.8 L677.5 759.3 L679.1 758.7 L680.5 758.3 L681.8 757.9 L683.0 757.6 L684.2 757.3 L685.4 757.0 L686.5 756.7 L687.5 756.4 L688.4 756.2 L689.2 756.0 L689.8 755.9 L688.5 750.2 L687.9 750.4 L687.1 750.5 L686.2 750.8 L685.1 751.0 L684.0 751.2 L682.8 751.5 L681.6 751.7 L680.4 752.0 L679.1 752.2 L677.6 752.4 L676.0 752.7 L674.3 752.9 L672.8 753.0 L671.3 753.1 L670.1 753.2 L669.2 753.2Z M670.0 774.7 L671.1 774.4 L672.7 774.1 L674.5 773.8 L676.5 773.5 L678.6 773.3 L680.7 773.2 L682.7 773.1 L684.4 773.1 L686.0 773.2 L687.7 773.3 L689.3 773.4 L690.9 773.5 L692.4 773.7 L693.7 773.8 L694.8 773.9 L695.7 774.0 L696.4 768.5 L695.5 768.4 L694.4 768.2 L693.1 768.1 L691.6 767.9 L690.0 767.6 L688.4 767.3 L686.8 767.0 L685.2 766.7 L683.5 766.3 L681.6 765.8 L679.6 765.2 L677.6 764.5 L675.7 763.7 L674.0 763.0 L672.6 762.3 L671.6 761.8Z M655.3 792.2 L656.7 793.4 L658.6 794.9 L660.8 796.8 L663.3 798.9 L665.7 801.2 L668.1 803.5 L670.4 805.8 L672.4 807.8 L674.3 809.8 L676.3 811.9 L678.2 814.0 L680.1 816.1 L681.8 818.0 L683.3 819.8 L684.6 821.2 L685.6 822.4 L690.6 818.0 L689.7 816.8 L688.4 815.4 L686.9 813.6 L685.2 811.6 L683.4 809.5 L681.6 807.2 L679.8 805.0 L678.1 802.9 L676.4 800.6 L674.5 798.0 L672.6 795.3 L670.7 792.5 L668.9 789.8 L667.4 787.3 L666.2 785.2 L665.2 783.7Z M644.3 795.5 L644.7 796.4 L645.2 797.7 L645.8 799.2 L646.4 800.9 L647.1 802.6 L647.7 804.4 L648.2 806.0 L648.7 807.5 L649.1 808.9 L649.5 810.3 L649.9 811.7 L650.3 813.0 L650.7 814.2 L651.0 815.3 L651.2 816.3 L651.4 817.0 L657.0 815.4 L656.8 814.7 L656.6 813.8 L656.3 812.7 L656.0 811.4 L655.6 810.1 L655.2 808.7 L654.9 807.3 L654.5 805.9 L654.2 804.4 L653.8 802.7 L653.4 800.9 L653.1 799.0 L652.7 797.3 L652.5 795.7 L652.3 794.3 L652.1 793.3Z M634.7 795.3 L634.8 796.2 L634.9 797.5 L635.0 799.0 L635.0 800.7 L635.1 802.4 L635.1 804.1 L635.2 805.7 L635.2 807.1 L635.1 808.4 L635.1 809.7 L635.1 811.0 L635.1 812.3 L635.0 813.4 L635.0 814.4 L634.9 815.3 L634.9 816.0 L640.7 816.2 L640.8 815.6 L640.8 814.7 L640.8 813.7 L640.9 812.5 L641.0 811.3 L641.0 810.0 L641.1 808.7 L641.2 807.4 L641.3 806.0 L641.5 804.4 L641.7 802.7 L641.9 800.9 L642.1 799.3 L642.3 797.8 L642.6 796.6 L642.7 795.6Z M618.3 787.7 L617.7 789.5 L616.9 791.9 L615.9 794.7 L614.7 797.8 L613.4 801.0 L612.0 804.1 L610.7 807.1 L609.4 809.7 L608.1 812.3 L606.8 814.9 L605.4 817.4 L604.0 819.9 L602.7 822.3 L601.5 824.3 L600.5 826.1 L599.8 827.4 L605.6 830.8 L606.4 829.4 L607.4 827.7 L608.6 825.7 L609.9 823.4 L611.4 820.9 L613.0 818.4 L614.5 816.0 L616.1 813.6 L617.8 811.2 L619.6 808.5 L621.7 805.8 L623.8 803.0 L625.8 800.5 L627.8 798.2 L629.4 796.3 L630.7 794.9Z M614.0 782.1 L613.3 783.0 L612.4 784.2 L611.2 785.5 L610.0 787.1 L608.6 788.6 L607.2 790.1 L605.8 791.6 L604.6 792.8 L603.5 793.9 L602.3 795.1 L601.1 796.3 L600.0 797.4 L598.9 798.4 L597.9 799.3 L597.1 800.0 L596.5 800.6 L600.4 804.9 L601.0 804.3 L601.9 803.5 L602.8 802.7 L603.9 801.7 L605.1 800.6 L606.4 799.5 L607.6 798.4 L608.9 797.4 L610.2 796.3 L611.7 795.1 L613.3 793.8 L615.0 792.6 L616.6 791.4 L618.1 790.4 L619.4 789.5 L620.3 788.9Z M610.7 775.1 L610.2 775.4 L609.6 775.9 L608.9 776.4 L608.1 776.9 L607.3 777.5 L606.5 778.0 L605.7 778.5 L605.0 778.8 L604.4 779.2 L603.8 779.5 L603.2 779.8 L602.7 780.1 L602.2 780.3 L601.7 780.5 L601.4 780.7 L601.1 780.9 L603.1 785.1 L603.4 784.9 L603.8 784.8 L604.2 784.6 L604.7 784.3 L605.3 784.1 L605.9 783.8 L606.5 783.5 L607.1 783.2 L607.9 782.9 L608.7 782.6 L609.6 782.3 L610.6 781.9 L611.5 781.7 L612.3 781.4 L613.1 781.2 L613.6 781.1Z M608.4 761.8 L607.0 762.3 L605.1 763.0 L602.8 763.8 L600.2 764.5 L597.5 765.2 L594.8 765.9 L592.3 766.5 L590.0 766.9 L587.8 767.3 L585.6 767.7 L583.3 768.1 L581.2 768.4 L579.1 768.7 L577.3 768.9 L575.8 769.1 L574.6 769.3 L575.4 775.9 L576.6 775.8 L578.1 775.6 L580.0 775.4 L582.0 775.1 L584.2 774.9 L586.4 774.7 L588.7 774.5 L590.9 774.4 L593.3 774.3 L595.9 774.2 L598.6 774.2 L601.4 774.2 L604.1 774.3 L606.5 774.5 L608.5 774.7 L610.0 774.8Z M611.9 750.4 L610.9 750.4 L609.6 750.3 L608.1 750.1 L606.4 749.9 L604.7 749.7 L603.0 749.3 L601.4 749.0 L600.0 748.7 L598.8 748.4 L597.6 748.1 L596.4 747.8 L595.2 747.4 L594.2 747.1 L593.3 746.9 L592.5 746.6 L591.9 746.5 L589.9 752.9 L590.5 753.1 L591.3 753.3 L592.2 753.6 L593.3 753.9 L594.4 754.3 L595.6 754.7 L596.8 755.1 L598.0 755.5 L599.3 756.0 L600.8 756.6 L602.4 757.3 L603.9 758.0 L605.5 758.8 L606.8 759.5 L608.0 760.1 L608.8 760.6Z" fill="#f397b8"/>
<path d="M616.3 770 C615 757 625 745.8 639.7 745.3 C654 745 663 757 663.7 770 C664.2 778 662 782.5 658.3 782 C652 781.5 649 779.5 645 778 C640.5 776.3 636 775.5 631.7 775.3 C625 775 618 776.5 616.3 770 Z" fill="#fff"/>
<ellipse cx="721.6" cy="783.4" rx="10.4" ry="12.4" transform="rotate(38 721.6 783.4)" fill="#ee7861" />
<ellipse cx="737.4" cy="793.9" rx="10.6" ry="12.0" transform="rotate(38 737.4 793.9)" fill="#ee7861" />
<ellipse cx="729.5" cy="788.6" rx="9" ry="9.6" transform="rotate(38 729.5 788.6)" fill="#ee7861" />
<g transform="translate(1109 768) rotate(-113)"><path d="M30 -4.2 L47 -3 L47 3 L30 4.2 Z" fill="#e7958b"/><path d="M57.5 -9 C47.5 -9.5 44 -4.5 44 0 C44 4.5 47.5 9.5 57.5 9 C52.5 6.5 51 3.2 51 0 C51 -3.2 52.5 -6.5 57.5 -9 Z" fill="#e7958b" stroke="#e7958b" stroke-width="2" stroke-linejoin="round"/></g>
<g transform="translate(1109 768) rotate(-65)"><path d="M30 -4.2 L47 -3 L47 3 L30 4.2 Z" fill="#e7958b"/><path d="M57.5 -9 C47.5 -9.5 44 -4.5 44 0 C44 4.5 47.5 9.5 57.5 9 C52.5 6.5 51 3.2 51 0 C51 -3.2 52.5 -6.5 57.5 -9 Z" fill="#e7958b" stroke="#e7958b" stroke-width="2" stroke-linejoin="round"/></g>
<g transform="translate(1109 768) rotate(-21)"><path d="M30 -4.2 L47 -3 L47 3 L30 4.2 Z" fill="#e7958b"/><path d="M57.5 -9 C47.5 -9.5 44 -4.5 44 0 C44 4.5 47.5 9.5 57.5 9 C52.5 6.5 51 3.2 51 0 C51 -3.2 52.5 -6.5 57.5 -9 Z" fill="#e7958b" stroke="#e7958b" stroke-width="2" stroke-linejoin="round"/></g>
<g transform="translate(1109 768) rotate(21)"><path d="M30 -4.2 L47 -3 L47 3 L30 4.2 Z" fill="#e7958b"/><path d="M57.5 -9 C47.5 -9.5 44 -4.5 44 0 C44 4.5 47.5 9.5 57.5 9 C52.5 6.5 51 3.2 51 0 C51 -3.2 52.5 -6.5 57.5 -9 Z" fill="#e7958b" stroke="#e7958b" stroke-width="2" stroke-linejoin="round"/></g>
<g transform="translate(1109 768) rotate(65)"><path d="M30 -4.2 L47 -3 L47 3 L30 4.2 Z" fill="#e7958b"/><path d="M57.5 -9 C47.5 -9.5 44 -4.5 44 0 C44 4.5 47.5 9.5 57.5 9 C52.5 6.5 51 3.2 51 0 C51 -3.2 52.5 -6.5 57.5 -9 Z" fill="#e7958b" stroke="#e7958b" stroke-width="2" stroke-linejoin="round"/></g>
<g transform="translate(1109 768) rotate(113)"><path d="M30 -4.2 L47 -3 L47 3 L30 4.2 Z" fill="#e7958b"/><path d="M57.5 -9 C47.5 -9.5 44 -4.5 44 0 C44 4.5 47.5 9.5 57.5 9 C52.5 6.5 51 3.2 51 0 C51 -3.2 52.5 -6.5 57.5 -9 Z" fill="#e7958b" stroke="#e7958b" stroke-width="2" stroke-linejoin="round"/></g>
<g transform="translate(1109 768) rotate(159)"><path d="M30 -4.2 L47 -3 L47 3 L30 4.2 Z" fill="#e7958b"/><path d="M57.5 -9 C47.5 -9.5 44 -4.5 44 0 C44 4.5 47.5 9.5 57.5 9 C52.5 6.5 51 3.2 51 0 C51 -3.2 52.5 -6.5 57.5 -9 Z" fill="#e7958b" stroke="#e7958b" stroke-width="2" stroke-linejoin="round"/></g>
<g transform="translate(1109 768) rotate(201)"><path d="M30 -4.2 L47 -3 L47 3 L30 4.2 Z" fill="#e7958b"/><path d="M57.5 -9 C47.5 -9.5 44 -4.5 44 0 C44 4.5 47.5 9.5 57.5 9 C52.5 6.5 51 3.2 51 0 C51 -3.2 52.5 -6.5 57.5 -9 Z" fill="#e7958b" stroke="#e7958b" stroke-width="2" stroke-linejoin="round"/></g>
<circle cx="1109" cy="768" r="36.3" fill="#f2a69c"/>
<ellipse cx="1109" cy="768" rx="16.5" ry="21" transform="rotate(8 1109 768)" fill="#ee9083" />
<path d="M946 794 q3 -1.5 5 -1 M945 801 q4 -2 7 0 M948 801 q1 5 -3 9 M949 805 q3 2 3 6 M948 818 q2 0 3 -2" fill="none" stroke="#f8c98f" stroke-width="0.9" opacity="0.9"/>
</g>
<g id="neuron">
<g filter="url(#goo)"><path d="M1336.5 822.0 L1334.6 819.6 L1332.3 816.4 L1329.9 812.4 L1327.5 808.0 L1325.4 803.4 L1323.6 798.7 L1322.1 794.2 L1320.9 790.0 L1319.9 786.0 L1318.9 781.7 L1318.1 777.4 L1317.3 773.1 L1316.7 769.1 L1316.2 765.5 L1315.8 762.5 L1315.5 760.2 L1311.3 760.6 L1311.4 762.9 L1311.6 766.0 L1311.8 769.6 L1311.9 773.6 L1312.0 777.9 L1311.8 782.3 L1311.5 786.5 L1311.0 790.6 L1310.1 794.6 L1308.9 799.1 L1307.3 803.7 L1305.3 808.3 L1303.1 812.7 L1300.7 816.7 L1298.5 820.1 L1296.6 822.6Z M1328.1 838.6 L1329.2 834.8 L1331.1 829.9 L1333.8 824.5 L1337.2 819.0 L1340.9 813.9 L1344.7 809.2 L1348.3 805.0 L1351.1 801.5 L1353.3 798.6 L1354.9 796.1 L1356.1 793.8 L1357.0 791.7 L1357.7 789.6 L1358.3 787.4 L1358.9 785.1 L1359.8 782.4 L1360.8 779.0 L1362.0 775.1 L1363.2 770.9 L1364.4 766.5 L1365.5 762.4 L1366.5 758.6 L1367.4 755.4 L1368.1 753.1 L1367.5 752.9 L1366.7 755.1 L1365.6 758.3 L1364.3 762.0 L1362.8 766.0 L1361.3 770.2 L1359.7 774.3 L1358.1 778.0 L1356.6 781.2 L1355.4 783.8 L1354.4 786.0 L1353.5 787.9 L1352.6 789.6 L1351.6 791.1 L1350.3 792.7 L1348.5 794.3 L1346.1 796.2 L1342.6 798.3 L1338.1 800.5 L1332.7 802.5 L1326.8 804.3 L1320.6 805.4 L1314.6 806.0 L1309.2 806.1 L1305.1 806.0Z M1313.5 842.0 L1316.5 840.1 L1320.6 838.0 L1325.5 836.0 L1330.8 834.4 L1336.3 833.3 L1341.6 832.5 L1346.4 831.9 L1350.6 831.4 L1354.2 830.8 L1357.4 830.2 L1360.3 829.4 L1363.0 828.6 L1365.4 827.8 L1367.8 827.0 L1370.1 826.2 L1372.5 825.4 L1375.0 824.7 L1377.4 824.0 L1379.9 823.3 L1382.3 822.6 L1384.6 821.8 L1387.0 821.0 L1389.4 820.1 L1391.7 819.0 L1394.1 817.7 L1396.7 816.2 L1399.3 814.6 L1401.9 812.9 L1404.3 811.3 L1406.4 809.8 L1408.2 808.5 L1409.6 807.7 L1409.3 807.1 L1407.8 807.9 L1406.0 809.1 L1403.7 810.4 L1401.2 811.9 L1398.6 813.4 L1395.9 814.8 L1393.3 816.1 L1390.9 817.1 L1388.5 817.9 L1386.2 818.6 L1383.9 819.2 L1381.5 819.7 L1379.1 820.2 L1376.7 820.6 L1374.2 821.0 L1371.6 821.4 L1369.0 821.8 L1366.6 822.3 L1364.1 822.7 L1361.7 823.0 L1359.2 823.2 L1356.6 823.3 L1353.9 823.1 L1350.8 822.6 L1347.3 821.7 L1343.0 820.2 L1338.4 818.1 L1333.8 815.4 L1329.4 812.2 L1325.5 808.7 L1322.1 805.4 L1319.6 802.6Z M1299.5 832.6 L1302.8 834.1 L1307.0 836.2 L1311.7 839.0 L1316.3 842.3 L1320.8 846.0 L1324.9 849.7 L1328.4 853.4 L1331.2 856.6 L1333.3 859.4 L1335.2 862.1 L1336.8 864.7 L1338.3 867.3 L1339.8 869.9 L1341.3 872.4 L1343.1 874.8 L1345.1 877.2 L1347.4 879.3 L1349.8 881.2 L1352.3 883.0 L1354.9 884.6 L1357.4 886.1 L1360.0 887.5 L1362.6 889.0 L1365.1 890.5 L1367.7 892.0 L1370.5 893.6 L1373.5 895.2 L1376.4 896.8 L1379.1 898.3 L1381.5 899.6 L1383.6 900.7 L1385.1 901.6 L1385.5 901.0 L1384.0 900.1 L1382.0 898.9 L1379.6 897.4 L1377.0 895.8 L1374.2 894.0 L1371.4 892.2 L1368.7 890.4 L1366.3 888.6 L1363.9 886.9 L1361.5 885.3 L1359.0 883.6 L1356.7 881.9 L1354.4 880.1 L1352.3 878.2 L1350.4 876.3 L1348.6 874.2 L1347.2 872.0 L1346.1 869.7 L1345.1 867.3 L1344.2 864.7 L1343.3 861.8 L1342.4 858.7 L1341.3 855.3 L1340.0 851.7 L1338.5 847.5 L1337.0 842.6 L1335.6 837.1 L1334.4 831.4 L1333.7 825.7 L1333.3 820.3 L1333.4 815.6 L1333.7 812.0Z M1298.7 813.4 L1299.7 818.0 L1300.4 824.2 L1300.3 831.4 L1299.4 838.9 L1298.0 846.2 L1296.4 853.1 L1294.8 859.2 L1293.7 864.3 L1293.2 868.4 L1293.2 871.9 L1293.5 875.1 L1294.2 877.8 L1295.1 880.3 L1296.2 882.6 L1297.4 884.7 L1298.6 886.9 L1300.0 889.1 L1301.9 891.2 L1304.0 893.2 L1306.3 895.1 L1308.4 896.7 L1310.4 898.2 L1312.0 899.5 L1313.2 900.5 L1313.6 900.0 L1312.5 898.9 L1310.9 897.6 L1309.0 896.0 L1307.0 894.2 L1305.0 892.2 L1303.2 890.1 L1301.6 888.0 L1300.5 885.8 L1299.5 883.6 L1298.6 881.5 L1297.9 879.3 L1297.4 877.1 L1297.1 874.7 L1297.2 872.1 L1297.8 869.1 L1298.9 865.7 L1300.9 861.6 L1304.0 856.5 L1308.1 851.1 L1313.0 845.8 L1318.6 840.9 L1324.4 836.8 L1330.0 833.5 L1334.4 831.3Z M1299.8 811.5 L1299.8 816.0 L1299.5 822.0 L1298.7 828.6 L1297.3 835.5 L1295.3 842.2 L1292.9 848.5 L1290.4 853.9 L1288.0 858.2 L1285.6 861.5 L1283.2 864.2 L1280.7 866.6 L1278.2 868.7 L1275.7 870.6 L1273.2 872.5 L1270.8 874.4 L1268.5 876.5 L1266.4 878.6 L1264.4 880.6 L1262.5 882.6 L1260.8 884.5 L1259.1 886.4 L1257.4 888.3 L1255.8 890.2 L1254.0 892.1 L1252.2 894.2 L1250.3 896.3 L1248.4 898.6 L1246.4 900.8 L1244.6 902.9 L1243.0 904.7 L1241.6 906.3 L1240.6 907.5 L1241.1 907.9 L1242.1 906.8 L1243.6 905.3 L1245.3 903.5 L1247.2 901.5 L1249.3 899.4 L1251.3 897.3 L1253.4 895.3 L1255.3 893.4 L1257.2 891.6 L1259.0 889.8 L1260.8 888.0 L1262.6 886.3 L1264.5 884.5 L1266.5 882.8 L1268.5 881.0 L1270.8 879.1 L1273.1 877.4 L1275.6 875.9 L1278.2 874.4 L1281.0 872.8 L1284.0 871.0 L1287.2 868.9 L1290.5 866.3 L1294.0 863.3 L1297.9 859.5 L1302.4 855.0 L1307.4 850.2 L1312.9 845.5 L1318.6 841.1 L1324.3 837.5 L1329.4 834.8 L1333.4 833.1Z M1326.9 805.2 L1323.5 805.7 L1319.1 806.0 L1314.1 806.1 L1309.0 805.8 L1303.9 805.0 L1299.1 803.9 L1295.0 802.6 L1291.6 801.3 L1289.0 800.1 L1286.8 798.8 L1284.8 797.6 L1283.0 796.3 L1281.3 794.9 L1279.5 793.5 L1277.5 792.1 L1275.3 790.6 L1272.9 789.1 L1270.3 787.6 L1267.7 786.2 L1265.0 784.7 L1262.4 783.2 L1259.9 781.7 L1257.5 780.3 L1255.3 778.9 L1253.1 777.4 L1251.0 775.8 L1248.9 774.2 L1246.9 772.6 L1245.1 771.0 L1243.5 769.7 L1242.1 768.5 L1241.0 767.7 L1240.6 768.1 L1241.6 769.1 L1242.9 770.3 L1244.5 771.7 L1246.2 773.4 L1248.1 775.1 L1250.1 776.9 L1252.1 778.7 L1254.1 780.4 L1256.3 782.1 L1258.6 783.8 L1261.0 785.5 L1263.4 787.3 L1265.9 789.0 L1268.2 790.8 L1270.5 792.5 L1272.5 794.3 L1274.3 795.9 L1275.8 797.6 L1277.2 799.2 L1278.6 800.9 L1280.1 802.7 L1281.8 804.7 L1283.8 806.8 L1286.1 809.2 L1288.8 812.0 L1291.9 815.3 L1295.2 819.2 L1298.3 823.4 L1301.2 827.8 L1303.5 832.3 L1305.2 836.3 L1306.3 839.4Z" fill="#72c8f2"/><circle cx="1316.6" cy="822.3" r="27" fill="#72c8f2"/></g>
<path d="M1336.5 822.0 L1334.6 819.6 L1332.3 816.4 L1329.9 812.4 L1327.5 808.0 L1325.4 803.4 L1323.6 798.7 L1322.1 794.2 L1320.9 790.0 L1319.9 786.0 L1318.9 781.7 L1318.1 777.4 L1317.3 773.1 L1316.7 769.1 L1316.2 765.5 L1315.8 762.5 L1315.5 760.2 L1311.3 760.6 L1311.4 762.9 L1311.6 766.0 L1311.8 769.6 L1311.9 773.6 L1312.0 777.9 L1311.8 782.3 L1311.5 786.5 L1311.0 790.6 L1310.1 794.6 L1308.9 799.1 L1307.3 803.7 L1305.3 808.3 L1303.1 812.7 L1300.7 816.7 L1298.5 820.1 L1296.6 822.6Z M1316.4 760.8 L1315.9 759.1 L1315.1 756.7 L1314.3 754.0 L1313.3 751.0 L1312.4 747.8 L1311.6 744.7 L1310.9 741.7 L1310.4 739.0 L1310.2 736.4 L1310.1 733.7 L1310.1 730.9 L1310.2 728.2 L1310.4 725.6 L1310.6 723.3 L1310.7 721.4 L1310.8 719.9 L1310.4 719.9 L1310.1 721.3 L1309.7 723.2 L1309.2 725.4 L1308.7 728.0 L1308.2 730.7 L1307.8 733.5 L1307.5 736.4 L1307.4 739.2 L1307.5 742.1 L1307.8 745.3 L1308.2 748.7 L1308.7 752.0 L1309.3 755.2 L1309.7 758.0 L1310.1 760.4 L1310.4 762.2Z M1309.5 740.5 L1309.2 740.1 L1308.8 739.6 L1308.3 739.0 L1307.8 738.4 L1307.2 737.6 L1306.6 736.9 L1306.1 736.2 L1305.5 735.5 L1304.9 734.7 L1304.2 733.9 L1303.6 733.0 L1302.9 732.1 L1302.2 731.2 L1301.6 730.5 L1301.1 729.8 L1300.8 729.4 L1300.4 729.6 L1300.7 730.1 L1301.1 730.8 L1301.6 731.7 L1302.1 732.6 L1302.7 733.6 L1303.2 734.6 L1303.7 735.5 L1304.2 736.3 L1304.7 737.1 L1305.1 737.9 L1305.6 738.7 L1306.1 739.5 L1306.5 740.3 L1306.9 740.9 L1307.2 741.5 L1307.4 741.9Z M1316.2 765.8 L1317.1 764.7 L1318.4 763.4 L1320.0 761.7 L1321.8 759.7 L1323.7 757.6 L1325.5 755.4 L1327.2 753.1 L1328.7 750.7 L1330.0 748.1 L1331.1 745.2 L1332.2 742.2 L1333.2 739.1 L1334.1 736.1 L1334.8 733.4 L1335.5 731.2 L1336.0 729.6 L1335.6 729.4 L1334.9 731.0 L1333.9 733.1 L1332.8 735.6 L1331.5 738.4 L1330.1 741.3 L1328.7 744.1 L1327.2 746.7 L1325.8 748.8 L1324.2 750.7 L1322.4 752.6 L1320.4 754.4 L1318.4 756.2 L1316.4 757.8 L1314.6 759.2 L1313.1 760.5 L1311.9 761.4Z M1323.6 759.1 L1324.3 758.9 L1325.1 758.7 L1326.0 758.5 L1327.1 758.2 L1328.2 758.0 L1329.4 757.7 L1330.5 757.5 L1331.6 757.3 L1332.7 757.2 L1333.8 757.1 L1335.1 757.0 L1336.3 757.0 L1337.5 756.9 L1338.5 756.9 L1339.4 756.8 L1340.1 756.8 L1340.1 756.4 L1339.4 756.3 L1338.5 756.2 L1337.5 756.2 L1336.3 756.1 L1335.1 756.0 L1333.8 755.9 L1332.6 755.9 L1331.5 755.8 L1330.3 755.9 L1329.2 756.0 L1327.9 756.1 L1326.8 756.2 L1325.6 756.3 L1324.7 756.5 L1323.8 756.6 L1323.2 756.6Z M1317.7 794.8 L1316.7 793.4 L1315.5 791.5 L1313.9 789.2 L1312.3 786.7 L1310.6 784.1 L1308.9 781.5 L1307.4 779.0 L1306.1 776.9 L1304.9 775.0 L1303.7 773.2 L1302.6 771.4 L1301.6 769.7 L1300.6 768.1 L1299.8 766.7 L1299.1 765.5 L1298.6 764.6 L1298.3 764.8 L1298.7 765.7 L1299.3 767.0 L1299.9 768.5 L1300.7 770.1 L1301.4 772.0 L1302.2 773.9 L1302.9 776.0 L1303.6 778.1 L1304.3 780.4 L1305.1 783.1 L1306.0 786.1 L1306.8 789.1 L1307.5 792.0 L1308.2 794.7 L1308.7 797.0 L1309.1 798.6Z M1304.2 778.5 L1303.8 778.4 L1303.3 778.2 L1302.7 778.0 L1302.0 777.7 L1301.2 777.5 L1300.3 777.3 L1299.4 777.2 L1298.5 777.1 L1297.6 777.2 L1296.5 777.3 L1295.4 777.5 L1294.3 777.7 L1293.3 777.9 L1292.3 778.1 L1291.5 778.2 L1291.0 778.4 L1291.0 778.8 L1291.6 778.8 L1292.4 778.7 L1293.4 778.7 L1294.4 778.6 L1295.5 778.6 L1296.6 778.6 L1297.6 778.6 L1298.4 778.7 L1299.1 778.9 L1299.8 779.1 L1300.5 779.4 L1301.2 779.7 L1301.8 780.1 L1302.4 780.4 L1302.9 780.6 L1303.3 780.8Z M1328.1 838.6 L1329.2 834.8 L1331.1 829.9 L1333.8 824.5 L1337.2 819.0 L1340.9 813.9 L1344.7 809.2 L1348.3 805.0 L1351.1 801.5 L1353.3 798.6 L1354.9 796.1 L1356.1 793.8 L1357.0 791.7 L1357.7 789.6 L1358.3 787.4 L1358.9 785.1 L1359.8 782.4 L1360.8 779.0 L1362.0 775.1 L1363.2 770.9 L1364.4 766.5 L1365.5 762.4 L1366.5 758.6 L1367.4 755.4 L1368.1 753.1 L1367.5 752.9 L1366.7 755.1 L1365.6 758.3 L1364.3 762.0 L1362.8 766.0 L1361.3 770.2 L1359.7 774.3 L1358.1 778.0 L1356.6 781.2 L1355.4 783.8 L1354.4 786.0 L1353.5 787.9 L1352.6 789.6 L1351.6 791.1 L1350.3 792.7 L1348.5 794.3 L1346.1 796.2 L1342.6 798.3 L1338.1 800.5 L1332.7 802.5 L1326.8 804.3 L1320.6 805.4 L1314.6 806.0 L1309.2 806.1 L1305.1 806.0Z M1355.0 797.8 L1356.4 796.9 L1358.4 795.8 L1360.8 794.4 L1363.4 792.9 L1366.2 791.2 L1368.9 789.4 L1371.4 787.6 L1373.6 785.7 L1375.4 783.8 L1377.0 781.9 L1378.3 779.9 L1379.5 777.8 L1380.6 775.8 L1381.6 773.8 L1382.7 771.7 L1383.9 769.7 L1385.2 767.5 L1386.5 765.0 L1388.0 762.4 L1389.4 759.9 L1390.7 757.4 L1391.9 755.2 L1392.8 753.4 L1393.6 752.0 L1393.2 751.8 L1392.3 753.1 L1391.1 754.8 L1389.7 756.8 L1388.1 759.1 L1386.5 761.5 L1384.8 763.9 L1383.1 766.2 L1381.6 768.2 L1380.2 770.2 L1378.9 772.1 L1377.6 774.0 L1376.3 775.8 L1375.0 777.6 L1373.7 779.2 L1372.2 780.7 L1370.5 782.1 L1368.5 783.4 L1366.1 784.8 L1363.4 786.2 L1360.6 787.5 L1357.9 788.7 L1355.4 789.7 L1353.2 790.7 L1351.6 791.4Z M1381.2 774.4 L1381.2 773.6 L1381.2 772.6 L1381.2 771.4 L1381.2 770.0 L1381.2 768.6 L1381.2 767.2 L1381.2 765.9 L1381.3 764.8 L1381.3 763.7 L1381.4 762.6 L1381.5 761.5 L1381.6 760.4 L1381.7 759.4 L1381.8 758.6 L1381.8 757.8 L1381.9 757.3 L1381.5 757.2 L1381.3 757.7 L1381.2 758.5 L1381.0 759.3 L1380.8 760.3 L1380.6 761.3 L1380.3 762.4 L1380.1 763.5 L1379.9 764.6 L1379.8 765.8 L1379.6 767.1 L1379.4 768.5 L1379.2 769.9 L1379.1 771.2 L1378.9 772.5 L1378.8 773.5 L1378.7 774.2Z M1368.9 788.4 L1370.2 788.3 L1371.8 788.1 L1373.7 788.0 L1375.9 787.8 L1378.1 787.6 L1380.5 787.4 L1382.7 787.2 L1384.9 787.1 L1387.0 787.1 L1389.4 787.1 L1391.9 787.1 L1394.4 787.2 L1396.7 787.2 L1398.8 787.3 L1400.6 787.3 L1401.9 787.3 L1402.0 786.9 L1400.6 786.7 L1398.9 786.5 L1396.8 786.2 L1394.5 785.9 L1392.0 785.6 L1389.5 785.4 L1387.1 785.1 L1384.9 784.9 L1382.7 784.8 L1380.4 784.7 L1378.1 784.6 L1375.8 784.6 L1373.6 784.6 L1371.6 784.6 L1370.0 784.5 L1368.8 784.5Z M1388.4 787.1 L1388.8 786.9 L1389.3 786.7 L1390.0 786.5 L1390.7 786.2 L1391.4 785.9 L1392.2 785.6 L1393.0 785.3 L1393.7 785.0 L1394.4 784.6 L1395.1 784.2 L1395.9 783.8 L1396.6 783.3 L1397.3 782.9 L1397.9 782.5 L1398.5 782.2 L1398.8 782.0 L1398.7 781.6 L1398.2 781.7 L1397.7 782.0 L1397.0 782.3 L1396.2 782.6 L1395.4 782.9 L1394.6 783.2 L1393.9 783.5 L1393.2 783.7 L1392.5 783.9 L1391.7 784.1 L1390.9 784.3 L1390.1 784.5 L1389.4 784.6 L1388.7 784.8 L1388.2 784.9 L1387.8 785.0Z M1377.0 781.6 L1377.4 781.3 L1378.0 780.8 L1378.7 780.2 L1379.5 779.6 L1380.4 778.9 L1381.2 778.2 L1382.0 777.5 L1382.7 776.9 L1383.4 776.3 L1384.0 775.6 L1384.7 775.0 L1385.3 774.3 L1385.9 773.7 L1386.4 773.1 L1386.8 772.7 L1387.2 772.3 L1386.9 772.0 L1386.5 772.3 L1386.0 772.7 L1385.4 773.2 L1384.8 773.7 L1384.1 774.3 L1383.4 774.9 L1382.6 775.4 L1381.9 775.9 L1381.2 776.4 L1380.3 777.0 L1379.4 777.5 L1378.5 778.1 L1377.7 778.6 L1376.9 779.1 L1376.2 779.5 L1375.7 779.8Z M1313.5 842.0 L1316.5 840.1 L1320.6 838.0 L1325.5 836.0 L1330.8 834.4 L1336.3 833.3 L1341.6 832.5 L1346.4 831.9 L1350.6 831.4 L1354.2 830.8 L1357.4 830.2 L1360.3 829.4 L1363.0 828.6 L1365.4 827.8 L1367.8 827.0 L1370.1 826.2 L1372.5 825.4 L1375.0 824.7 L1377.4 824.0 L1379.9 823.3 L1382.3 822.6 L1384.6 821.8 L1387.0 821.0 L1389.4 820.1 L1391.7 819.0 L1394.1 817.7 L1396.7 816.2 L1399.3 814.6 L1401.9 812.9 L1404.3 811.3 L1406.4 809.8 L1408.2 808.5 L1409.6 807.7 L1409.3 807.1 L1407.8 807.9 L1406.0 809.1 L1403.7 810.4 L1401.2 811.9 L1398.6 813.4 L1395.9 814.8 L1393.3 816.1 L1390.9 817.1 L1388.5 817.9 L1386.2 818.6 L1383.9 819.2 L1381.5 819.7 L1379.1 820.2 L1376.7 820.6 L1374.2 821.0 L1371.6 821.4 L1369.0 821.8 L1366.6 822.3 L1364.1 822.7 L1361.7 823.0 L1359.2 823.2 L1356.6 823.3 L1353.9 823.1 L1350.8 822.6 L1347.3 821.7 L1343.0 820.2 L1338.4 818.1 L1333.8 815.4 L1329.4 812.2 L1325.5 808.7 L1322.1 805.4 L1319.6 802.6Z M1378.5 822.0 L1378.9 821.4 L1379.4 820.6 L1380.0 819.6 L1380.6 818.5 L1381.3 817.3 L1382.0 816.2 L1382.7 815.2 L1383.3 814.3 L1383.9 813.4 L1384.6 812.6 L1385.3 811.8 L1386.0 811.0 L1386.7 810.2 L1387.3 809.6 L1387.8 809.0 L1388.2 808.6 L1387.9 808.3 L1387.5 808.7 L1386.9 809.1 L1386.2 809.7 L1385.4 810.3 L1384.6 811.0 L1383.8 811.8 L1383.0 812.5 L1382.2 813.3 L1381.4 814.2 L1380.6 815.1 L1379.7 816.2 L1378.8 817.2 L1378.0 818.2 L1377.3 819.1 L1376.7 819.9 L1376.3 820.5Z M1381.6 823.2 L1383.2 824.0 L1385.2 825.2 L1387.7 826.7 L1390.5 828.2 L1393.5 829.9 L1396.8 831.5 L1400.2 833.0 L1403.6 834.3 L1407.5 835.4 L1411.8 836.4 L1416.5 837.3 L1421.3 838.2 L1425.9 839.0 L1430.0 839.6 L1433.5 840.2 L1436.1 840.7 L1436.1 840.2 L1433.6 839.6 L1430.2 838.8 L1426.1 837.8 L1421.6 836.7 L1416.9 835.5 L1412.4 834.3 L1408.1 833.0 L1404.5 831.7 L1401.4 830.3 L1398.2 828.6 L1395.2 826.9 L1392.4 825.1 L1389.8 823.3 L1387.4 821.7 L1385.4 820.4 L1383.9 819.3Z M1409.9 837.0 L1410.3 836.7 L1410.9 836.4 L1411.5 836.0 L1412.2 835.6 L1412.9 835.1 L1413.7 834.7 L1414.4 834.3 L1415.0 834.0 L1415.6 833.7 L1416.2 833.4 L1416.8 833.1 L1417.3 832.9 L1417.9 832.6 L1418.4 832.4 L1418.8 832.3 L1419.1 832.1 L1419.0 831.7 L1418.6 831.8 L1418.2 831.9 L1417.7 832.0 L1417.1 832.2 L1416.5 832.3 L1415.8 832.5 L1415.2 832.7 L1414.5 832.9 L1413.8 833.1 L1413.1 833.4 L1412.2 833.7 L1411.4 834.0 L1410.7 834.3 L1410.0 834.6 L1409.4 834.8 L1408.9 835.0Z M1388.6 826.4 L1389.5 827.8 L1390.7 829.6 L1392.1 831.8 L1393.6 834.2 L1395.1 836.7 L1396.6 839.3 L1397.9 841.7 L1398.9 844.0 L1399.7 846.2 L1400.4 848.6 L1401.0 851.0 L1401.5 853.4 L1401.9 855.7 L1402.3 857.7 L1402.5 859.5 L1402.8 860.8 L1403.2 860.7 L1403.1 859.4 L1402.9 857.6 L1402.8 855.6 L1402.5 853.3 L1402.2 850.8 L1401.9 848.2 L1401.4 845.7 L1400.7 843.3 L1399.8 840.9 L1398.7 838.3 L1397.4 835.5 L1396.1 832.8 L1394.7 830.3 L1393.5 828.0 L1392.5 826.1 L1391.8 824.6Z M1363.0 826.0 L1364.1 827.3 L1365.5 829.0 L1367.2 831.1 L1369.0 833.3 L1370.9 835.7 L1372.7 838.0 L1374.3 840.1 L1375.6 842.0 L1376.6 843.6 L1377.4 845.3 L1378.1 847.0 L1378.8 848.6 L1379.3 850.0 L1379.7 851.4 L1380.1 852.5 L1380.4 853.3 L1380.8 853.2 L1380.6 852.3 L1380.3 851.2 L1380.0 849.8 L1379.7 848.3 L1379.2 846.6 L1378.7 844.8 L1378.0 843.0 L1377.1 841.1 L1376.0 839.0 L1374.6 836.7 L1373.0 834.2 L1371.4 831.6 L1369.8 829.2 L1368.3 826.9 L1367.1 825.1 L1366.2 823.7Z M1348.3 827.6 L1348.8 828.1 L1349.4 828.7 L1350.1 829.5 L1350.8 830.4 L1351.6 831.3 L1352.4 832.2 L1353.2 833.1 L1353.8 833.9 L1354.5 834.7 L1355.1 835.5 L1355.7 836.3 L1356.3 837.1 L1356.8 837.8 L1357.3 838.5 L1357.7 839.1 L1358.0 839.5 L1358.4 839.3 L1358.2 838.8 L1357.9 838.2 L1357.5 837.4 L1357.1 836.6 L1356.7 835.7 L1356.2 834.7 L1355.8 833.8 L1355.3 832.9 L1354.8 832.0 L1354.2 831.0 L1353.6 829.9 L1353.0 828.9 L1352.3 827.8 L1351.8 826.9 L1351.3 826.2 L1351.0 825.6Z M1394.7 837.8 L1395.1 838.4 L1395.6 839.2 L1396.3 840.2 L1397.0 841.3 L1397.7 842.6 L1398.6 843.8 L1399.5 845.0 L1400.4 846.2 L1401.4 847.4 L1402.6 848.7 L1403.9 850.1 L1405.2 851.4 L1406.5 852.7 L1407.6 853.8 L1408.6 854.8 L1409.3 855.5 L1409.6 855.3 L1408.9 854.5 L1408.0 853.4 L1407.0 852.2 L1405.8 850.9 L1404.6 849.4 L1403.4 848.0 L1402.3 846.6 L1401.4 845.4 L1400.6 844.2 L1399.8 843.0 L1399.1 841.7 L1398.4 840.5 L1397.8 839.3 L1397.2 838.3 L1396.8 837.4 L1396.4 836.8Z M1372.4 839.7 L1372.7 840.3 L1373.0 841.2 L1373.5 842.3 L1374.0 843.5 L1374.6 844.7 L1375.3 845.9 L1376.2 846.8 L1377.2 847.4 L1378.5 847.6 L1379.9 847.4 L1381.5 847.1 L1383.1 846.6 L1384.7 846.1 L1386.1 845.6 L1387.3 845.2 L1388.1 844.9 L1388.0 844.5 L1387.1 844.7 L1385.9 845.1 L1384.5 845.5 L1382.9 845.9 L1381.3 846.2 L1379.8 846.5 L1378.5 846.5 L1377.6 846.3 L1376.9 845.9 L1376.3 845.1 L1375.7 844.1 L1375.3 843.0 L1374.8 841.8 L1374.5 840.7 L1374.2 839.7 L1373.9 839.1Z M1299.5 832.6 L1302.8 834.1 L1307.0 836.2 L1311.7 839.0 L1316.3 842.3 L1320.8 846.0 L1324.9 849.7 L1328.4 853.4 L1331.2 856.6 L1333.3 859.4 L1335.2 862.1 L1336.8 864.7 L1338.3 867.3 L1339.8 869.9 L1341.3 872.4 L1343.1 874.8 L1345.1 877.2 L1347.4 879.3 L1349.8 881.2 L1352.3 883.0 L1354.9 884.6 L1357.4 886.1 L1360.0 887.5 L1362.6 889.0 L1365.1 890.5 L1367.7 892.0 L1370.5 893.6 L1373.5 895.2 L1376.4 896.8 L1379.1 898.3 L1381.5 899.6 L1383.6 900.7 L1385.1 901.6 L1385.5 901.0 L1384.0 900.1 L1382.0 898.9 L1379.6 897.4 L1377.0 895.8 L1374.2 894.0 L1371.4 892.2 L1368.7 890.4 L1366.3 888.6 L1363.9 886.9 L1361.5 885.3 L1359.0 883.6 L1356.7 881.9 L1354.4 880.1 L1352.3 878.2 L1350.4 876.3 L1348.6 874.2 L1347.2 872.0 L1346.1 869.7 L1345.1 867.3 L1344.2 864.7 L1343.3 861.8 L1342.4 858.7 L1341.3 855.3 L1340.0 851.7 L1338.5 847.5 L1337.0 842.6 L1335.6 837.1 L1334.4 831.4 L1333.7 825.7 L1333.3 820.3 L1333.4 815.6 L1333.7 812.0Z M1346.6 874.8 L1348.3 874.3 L1350.6 873.6 L1353.4 872.8 L1356.4 871.9 L1359.5 870.9 L1362.6 870.0 L1365.5 869.2 L1368.0 868.6 L1370.2 868.0 L1372.4 867.6 L1374.6 867.2 L1376.6 866.8 L1378.4 866.5 L1380.1 866.3 L1381.5 866.0 L1382.6 865.9 L1382.5 865.4 L1381.4 865.5 L1380.0 865.6 L1378.4 865.6 L1376.5 865.7 L1374.4 865.9 L1372.2 866.1 L1369.9 866.3 L1367.6 866.6 L1365.0 867.0 L1362.1 867.5 L1358.9 868.0 L1355.6 868.6 L1352.5 869.2 L1349.6 869.8 L1347.3 870.2 L1345.5 870.5Z M1365.5 869.9 L1366.5 870.4 L1367.8 871.0 L1369.4 871.7 L1371.1 872.6 L1372.9 873.4 L1374.7 874.4 L1376.5 875.3 L1378.0 876.3 L1379.6 877.4 L1381.2 878.6 L1382.9 880.0 L1384.5 881.3 L1386.0 882.7 L1387.4 883.9 L1388.6 884.9 L1389.4 885.6 L1389.7 885.3 L1388.9 884.5 L1387.8 883.4 L1386.5 882.1 L1385.1 880.7 L1383.6 879.2 L1382.0 877.7 L1380.4 876.3 L1378.9 875.1 L1377.3 873.9 L1375.6 872.8 L1373.8 871.8 L1372.1 870.7 L1370.4 869.8 L1368.9 869.0 L1367.6 868.3 L1366.7 867.7Z M1370.2 875.3 L1370.5 875.8 L1370.9 876.4 L1371.4 877.1 L1372.0 878.0 L1372.5 878.8 L1373.1 879.7 L1373.7 880.5 L1374.1 881.3 L1374.6 882.0 L1375.0 882.8 L1375.5 883.6 L1375.9 884.4 L1376.3 885.2 L1376.7 885.9 L1377.0 886.4 L1377.2 886.9 L1377.6 886.7 L1377.4 886.2 L1377.2 885.6 L1376.9 884.9 L1376.6 884.1 L1376.2 883.3 L1375.9 882.4 L1375.5 881.5 L1375.1 880.7 L1374.7 879.9 L1374.3 879.0 L1373.8 878.1 L1373.3 877.1 L1372.9 876.3 L1372.4 875.5 L1372.1 874.8 L1371.8 874.3Z M1360.9 886.9 L1361.3 887.8 L1361.8 889.0 L1362.4 890.4 L1363.1 892.0 L1363.7 893.6 L1364.3 895.3 L1364.8 896.8 L1365.2 898.2 L1365.4 899.5 L1365.4 901.0 L1365.4 902.4 L1365.3 903.9 L1365.2 905.2 L1365.1 906.5 L1365.0 907.5 L1364.9 908.3 L1365.6 908.4 L1365.7 907.6 L1365.9 906.6 L1366.2 905.4 L1366.5 904.0 L1366.7 902.5 L1366.9 901.0 L1367.0 899.5 L1367.0 898.0 L1366.8 896.4 L1366.5 894.7 L1366.1 892.9 L1365.6 891.1 L1365.1 889.5 L1364.7 888.0 L1364.3 886.7 L1364.0 885.8Z M1364.6 907.5 L1364.5 908.1 L1364.3 908.9 L1364.2 909.9 L1364.0 910.9 L1363.8 912.0 L1363.6 913.1 L1363.3 914.1 L1363.1 915.0 L1362.9 915.9 L1362.6 916.7 L1362.3 917.6 L1362.0 918.4 L1361.7 919.1 L1361.4 919.8 L1361.2 920.4 L1361.0 920.8 L1361.4 921.0 L1361.6 920.6 L1361.9 920.0 L1362.2 919.4 L1362.5 918.6 L1362.9 917.8 L1363.3 917.0 L1363.6 916.1 L1363.9 915.3 L1364.2 914.4 L1364.5 913.3 L1364.8 912.3 L1365.1 911.2 L1365.4 910.1 L1365.6 909.2 L1365.8 908.4 L1365.9 907.8Z M1364.7 908.1 L1365.0 908.5 L1365.5 909.0 L1366.0 909.7 L1366.6 910.4 L1367.3 911.1 L1367.9 911.9 L1368.6 912.6 L1369.2 913.3 L1369.8 914.0 L1370.4 914.7 L1371.1 915.4 L1371.8 916.1 L1372.4 916.8 L1373.0 917.4 L1373.5 917.9 L1373.8 918.3 L1374.2 918.0 L1373.8 917.6 L1373.4 917.1 L1372.8 916.4 L1372.3 915.7 L1371.6 914.9 L1371.0 914.2 L1370.4 913.4 L1369.9 912.7 L1369.3 912.0 L1368.7 911.2 L1368.1 910.5 L1367.6 909.7 L1367.0 908.9 L1366.5 908.2 L1366.1 907.7 L1365.8 907.3Z M1370.1 893.0 L1370.5 893.5 L1371.1 894.3 L1371.8 895.2 L1372.6 896.2 L1373.4 897.3 L1374.3 898.4 L1375.0 899.5 L1375.8 900.6 L1376.4 901.7 L1377.2 902.9 L1377.9 904.3 L1378.6 905.6 L1379.3 906.9 L1379.9 908.0 L1380.5 909.0 L1380.8 909.7 L1381.2 909.5 L1380.9 908.8 L1380.5 907.8 L1380.0 906.6 L1379.4 905.2 L1378.8 903.8 L1378.2 902.4 L1377.5 901.1 L1376.9 899.9 L1376.3 898.7 L1375.6 897.5 L1374.9 896.3 L1374.1 895.1 L1373.4 894.1 L1372.8 893.1 L1372.3 892.3 L1371.9 891.7Z M1345.4 875.3 L1344.7 876.2 L1343.9 877.4 L1342.8 878.9 L1341.7 880.6 L1340.5 882.3 L1339.4 884.0 L1338.3 885.6 L1337.4 887.0 L1336.5 888.3 L1335.7 889.5 L1334.8 890.8 L1334.1 891.9 L1333.4 893.0 L1332.7 894.0 L1332.2 894.8 L1331.8 895.4 L1332.1 895.6 L1332.6 895.1 L1333.2 894.3 L1333.9 893.4 L1334.7 892.4 L1335.6 891.3 L1336.6 890.2 L1337.5 889.0 L1338.5 887.8 L1339.6 886.5 L1340.8 885.1 L1342.1 883.5 L1343.4 881.9 L1344.7 880.4 L1345.9 879.0 L1346.9 877.8 L1347.6 876.9Z M1345.5 877.9 L1345.6 879.4 L1345.8 881.4 L1346.0 883.8 L1346.2 886.4 L1346.5 889.2 L1346.6 891.9 L1346.7 894.6 L1346.8 897.0 L1346.7 899.3 L1346.5 901.7 L1346.3 904.2 L1346.1 906.7 L1345.8 909.0 L1345.5 911.0 L1345.3 912.7 L1345.2 914.1 L1345.6 914.1 L1345.9 912.8 L1346.2 911.1 L1346.7 909.1 L1347.1 906.8 L1347.6 904.4 L1348.0 901.9 L1348.4 899.4 L1348.7 897.1 L1348.9 894.6 L1349.0 891.9 L1349.1 889.1 L1349.1 886.3 L1349.1 883.6 L1349.1 881.2 L1349.1 879.2 L1349.1 877.7Z M1345.4 899.7 L1345.1 900.1 L1344.7 900.7 L1344.1 901.3 L1343.6 902.1 L1343.0 902.9 L1342.4 903.7 L1341.8 904.5 L1341.3 905.3 L1340.9 906.0 L1340.4 906.8 L1339.9 907.7 L1339.5 908.5 L1339.1 909.3 L1338.7 910.0 L1338.4 910.5 L1338.2 911.0 L1338.5 911.2 L1338.8 910.8 L1339.2 910.2 L1339.6 909.6 L1340.1 908.8 L1340.6 908.1 L1341.1 907.3 L1341.7 906.5 L1342.2 905.8 L1342.7 905.2 L1343.3 904.4 L1344.0 903.7 L1344.7 903.0 L1345.3 902.3 L1345.8 901.7 L1346.3 901.1 L1346.7 900.7Z M1298.7 813.4 L1299.7 818.0 L1300.4 824.2 L1300.3 831.4 L1299.4 838.9 L1298.0 846.2 L1296.4 853.1 L1294.8 859.2 L1293.7 864.3 L1293.2 868.4 L1293.2 871.9 L1293.5 875.1 L1294.2 877.8 L1295.1 880.3 L1296.2 882.6 L1297.4 884.7 L1298.6 886.9 L1300.0 889.1 L1301.9 891.2 L1304.0 893.2 L1306.3 895.1 L1308.4 896.7 L1310.4 898.2 L1312.0 899.5 L1313.2 900.5 L1313.6 900.0 L1312.5 898.9 L1310.9 897.6 L1309.0 896.0 L1307.0 894.2 L1305.0 892.2 L1303.2 890.1 L1301.6 888.0 L1300.5 885.8 L1299.5 883.6 L1298.6 881.5 L1297.9 879.3 L1297.4 877.1 L1297.1 874.7 L1297.2 872.1 L1297.8 869.1 L1298.9 865.7 L1300.9 861.6 L1304.0 856.5 L1308.1 851.1 L1313.0 845.8 L1318.6 840.9 L1324.4 836.8 L1330.0 833.5 L1334.4 831.3Z M1296.2 879.2 L1295.8 880.3 L1295.2 881.9 L1294.6 883.7 L1293.8 885.8 L1293.0 887.9 L1292.1 890.1 L1291.1 892.2 L1290.0 894.2 L1288.7 896.3 L1287.1 898.6 L1285.4 901.0 L1283.6 903.4 L1281.9 905.7 L1280.3 907.7 L1279.0 909.5 L1278.0 910.7 L1278.3 911.0 L1279.4 909.8 L1280.9 908.2 L1282.7 906.3 L1284.6 904.2 L1286.6 902.0 L1288.6 899.7 L1290.4 897.6 L1292.0 895.5 L1293.3 893.5 L1294.6 891.3 L1295.7 889.2 L1296.8 887.1 L1297.7 885.1 L1298.6 883.3 L1299.2 881.8 L1299.8 880.7Z M1291.3 891.6 L1290.9 891.7 L1290.5 891.8 L1289.9 891.9 L1289.2 892.0 L1288.6 892.1 L1287.9 892.3 L1287.2 892.4 L1286.6 892.5 L1286.0 892.7 L1285.4 892.8 L1284.8 893.0 L1284.2 893.1 L1283.7 893.3 L1283.2 893.4 L1282.7 893.5 L1282.4 893.6 L1282.5 894.0 L1282.8 894.0 L1283.2 894.0 L1283.8 893.9 L1284.3 893.9 L1285.0 893.9 L1285.6 893.8 L1286.2 893.8 L1286.8 893.8 L1287.4 893.8 L1288.0 893.8 L1288.7 893.8 L1289.4 893.8 L1290.0 893.8 L1290.6 893.8 L1291.1 893.8 L1291.5 893.9Z M1292.5 891.4 L1292.4 891.9 L1292.3 892.6 L1292.1 893.4 L1292.0 894.3 L1291.8 895.3 L1291.7 896.2 L1291.6 897.1 L1291.4 897.9 L1291.3 898.7 L1291.2 899.5 L1291.1 900.3 L1291.0 901.1 L1291.0 901.8 L1290.9 902.4 L1290.8 903.0 L1290.8 903.4 L1291.2 903.5 L1291.3 903.1 L1291.4 902.5 L1291.6 901.9 L1291.8 901.2 L1292.0 900.5 L1292.2 899.7 L1292.4 898.9 L1292.6 898.2 L1292.9 897.4 L1293.1 896.6 L1293.4 895.7 L1293.7 894.7 L1294.0 893.9 L1294.3 893.1 L1294.5 892.4 L1294.6 891.9Z M1299.1 886.8 L1299.3 887.1 L1299.6 887.5 L1299.9 888.0 L1300.2 888.6 L1300.5 889.2 L1300.9 889.8 L1301.2 890.3 L1301.5 890.9 L1301.8 891.4 L1302.1 892.0 L1302.4 892.6 L1302.7 893.2 L1303.0 893.7 L1303.2 894.2 L1303.4 894.6 L1303.6 895.0 L1304.0 894.8 L1303.9 894.5 L1303.8 894.0 L1303.6 893.5 L1303.4 892.9 L1303.2 892.2 L1303.1 891.6 L1302.9 890.9 L1302.7 890.4 L1302.5 889.8 L1302.3 889.1 L1302.1 888.5 L1301.8 887.8 L1301.6 887.2 L1301.4 886.7 L1301.3 886.2 L1301.2 885.9Z M1299.8 811.5 L1299.8 816.0 L1299.5 822.0 L1298.7 828.6 L1297.3 835.5 L1295.3 842.2 L1292.9 848.5 L1290.4 853.9 L1288.0 858.2 L1285.6 861.5 L1283.2 864.2 L1280.7 866.6 L1278.2 868.7 L1275.7 870.6 L1273.2 872.5 L1270.8 874.4 L1268.5 876.5 L1266.4 878.6 L1264.4 880.6 L1262.5 882.6 L1260.8 884.5 L1259.1 886.4 L1257.4 888.3 L1255.8 890.2 L1254.0 892.1 L1252.2 894.2 L1250.3 896.3 L1248.4 898.6 L1246.4 900.8 L1244.6 902.9 L1243.0 904.7 L1241.6 906.3 L1240.6 907.5 L1241.1 907.9 L1242.1 906.8 L1243.6 905.3 L1245.3 903.5 L1247.2 901.5 L1249.3 899.4 L1251.3 897.3 L1253.4 895.3 L1255.3 893.4 L1257.2 891.6 L1259.0 889.8 L1260.8 888.0 L1262.6 886.3 L1264.5 884.5 L1266.5 882.8 L1268.5 881.0 L1270.8 879.1 L1273.1 877.4 L1275.6 875.9 L1278.2 874.4 L1281.0 872.8 L1284.0 871.0 L1287.2 868.9 L1290.5 866.3 L1294.0 863.3 L1297.9 859.5 L1302.4 855.0 L1307.4 850.2 L1312.9 845.5 L1318.6 841.1 L1324.3 837.5 L1329.4 834.8 L1333.4 833.1Z M1270.9 874.2 L1269.4 874.1 L1267.5 874.0 L1265.2 873.9 L1262.7 873.8 L1260.0 873.7 L1257.4 873.7 L1254.9 873.6 L1252.6 873.6 L1250.5 873.7 L1248.3 873.7 L1246.1 873.8 L1244.0 874.0 L1242.0 874.1 L1240.2 874.2 L1238.7 874.3 L1237.6 874.4 L1237.6 874.8 L1238.8 874.9 L1240.2 874.9 L1242.0 875.0 L1244.0 875.1 L1246.1 875.1 L1248.2 875.3 L1250.4 875.4 L1252.5 875.6 L1254.7 875.8 L1257.2 876.1 L1259.8 876.5 L1262.4 876.9 L1264.9 877.2 L1267.2 877.6 L1269.1 877.8 L1270.5 878.0Z M1262.6 874.2 L1262.2 874.1 L1261.6 873.9 L1260.9 873.7 L1260.2 873.4 L1259.4 873.2 L1258.6 872.9 L1257.8 872.7 L1257.1 872.5 L1256.3 872.3 L1255.5 872.1 L1254.7 871.9 L1253.9 871.7 L1253.2 871.6 L1252.5 871.4 L1252.0 871.3 L1251.6 871.2 L1251.4 871.6 L1251.8 871.8 L1252.4 872.0 L1253.0 872.2 L1253.7 872.5 L1254.5 872.8 L1255.2 873.1 L1255.9 873.4 L1256.6 873.7 L1257.3 874.0 L1258.0 874.4 L1258.7 874.8 L1259.5 875.1 L1260.2 875.5 L1260.8 875.8 L1261.3 876.1 L1261.7 876.3Z M1250.1 897.0 L1249.6 897.3 L1248.9 897.6 L1248.1 897.9 L1247.3 898.3 L1246.4 898.7 L1245.5 899.1 L1244.6 899.4 L1243.9 899.6 L1243.2 899.8 L1242.5 899.9 L1241.7 899.9 L1241.0 900.0 L1240.3 900.0 L1239.6 900.0 L1239.1 900.0 L1238.7 900.0 L1238.7 900.4 L1239.1 900.5 L1239.6 900.5 L1240.2 900.6 L1240.9 900.7 L1241.7 900.8 L1242.5 900.9 L1243.3 900.9 L1244.1 900.8 L1245.0 900.7 L1245.9 900.5 L1246.9 900.2 L1247.9 900.0 L1248.8 899.7 L1249.6 899.5 L1250.3 899.3 L1250.8 899.1Z M1326.9 805.2 L1323.5 805.7 L1319.1 806.0 L1314.1 806.1 L1309.0 805.8 L1303.9 805.0 L1299.1 803.9 L1295.0 802.6 L1291.6 801.3 L1289.0 800.1 L1286.8 798.8 L1284.8 797.6 L1283.0 796.3 L1281.3 794.9 L1279.5 793.5 L1277.5 792.1 L1275.3 790.6 L1272.9 789.1 L1270.3 787.6 L1267.7 786.2 L1265.0 784.7 L1262.4 783.2 L1259.9 781.7 L1257.5 780.3 L1255.3 778.9 L1253.1 777.4 L1251.0 775.8 L1248.9 774.2 L1246.9 772.6 L1245.1 771.0 L1243.5 769.7 L1242.1 768.5 L1241.0 767.7 L1240.6 768.1 L1241.6 769.1 L1242.9 770.3 L1244.5 771.7 L1246.2 773.4 L1248.1 775.1 L1250.1 776.9 L1252.1 778.7 L1254.1 780.4 L1256.3 782.1 L1258.6 783.8 L1261.0 785.5 L1263.4 787.3 L1265.9 789.0 L1268.2 790.8 L1270.5 792.5 L1272.5 794.3 L1274.3 795.9 L1275.8 797.6 L1277.2 799.2 L1278.6 800.9 L1280.1 802.7 L1281.8 804.7 L1283.8 806.8 L1286.1 809.2 L1288.8 812.0 L1291.9 815.3 L1295.2 819.2 L1298.3 823.4 L1301.2 827.8 L1303.5 832.3 L1305.2 836.3 L1306.3 839.4Z M1277.5 793.6 L1277.1 792.5 L1276.5 791.0 L1275.9 789.2 L1275.2 787.2 L1274.5 785.1 L1273.8 783.0 L1273.2 781.1 L1272.7 779.5 L1272.3 777.9 L1272.0 776.4 L1271.7 774.8 L1271.5 773.4 L1271.3 772.0 L1271.2 770.8 L1271.0 769.7 L1270.9 768.9 L1270.5 769.0 L1270.5 769.8 L1270.5 770.8 L1270.5 772.0 L1270.5 773.4 L1270.5 774.9 L1270.6 776.5 L1270.7 778.2 L1270.9 779.8 L1271.1 781.6 L1271.5 783.6 L1271.9 785.8 L1272.3 788.0 L1272.8 790.0 L1273.2 791.9 L1273.5 793.5 L1273.7 794.7Z M1280.0 796.8 L1278.9 797.1 L1277.6 797.5 L1275.9 798.0 L1274.1 798.5 L1272.3 799.0 L1270.4 799.5 L1268.8 799.9 L1267.4 800.2 L1266.2 800.4 L1265.1 800.6 L1264.0 800.7 L1263.0 800.7 L1262.1 800.7 L1261.3 800.7 L1260.6 800.7 L1260.0 800.8 L1260.0 801.2 L1260.6 801.2 L1261.2 801.3 L1262.0 801.4 L1262.9 801.6 L1264.0 801.7 L1265.1 801.7 L1266.3 801.8 L1267.6 801.7 L1269.1 801.6 L1270.8 801.4 L1272.7 801.2 L1274.6 800.9 L1276.5 800.6 L1278.2 800.4 L1279.6 800.2 L1280.6 800.0Z M1254.7 778.9 L1254.5 778.5 L1254.3 778.0 L1254.1 777.4 L1253.8 776.7 L1253.5 776.1 L1253.2 775.4 L1253.0 774.7 L1252.7 774.2 L1252.6 773.6 L1252.4 773.0 L1252.2 772.4 L1252.1 771.8 L1252.0 771.3 L1251.9 770.7 L1251.8 770.3 L1251.7 770.0 L1251.3 770.1 L1251.3 770.4 L1251.3 770.8 L1251.3 771.3 L1251.3 771.9 L1251.4 772.5 L1251.4 773.2 L1251.5 773.8 L1251.5 774.4 L1251.6 775.1 L1251.8 775.8 L1251.9 776.6 L1252.1 777.3 L1252.2 778.0 L1252.4 778.6 L1252.5 779.2 L1252.6 779.5Z" fill="#72c8f2"/>
<circle cx="1316.6" cy="822.3" r="27" fill="#72c8f2"/>
</g>
<g id="muscle">
<path d="M737.3 903.1 C738.3 901.2 750.2 897.7 756.7 895.8 C763.1 893.9 765.1 892.8 776.0 891.5 C787.0 890.3 809.5 888.8 822.4 888.4 C835.3 888.1 846.9 888.6 853.3 889.6 C859.8 890.6 862.4 892.0 861.1 894.2 C859.8 896.5 853.3 900.8 845.6 903.1 C837.9 905.5 826.3 907.1 814.7 908.2 C803.1 909.3 786.6 909.8 776.0 909.7 C765.4 909.6 757.3 908.5 750.9 907.4 C744.4 906.3 736.4 905.1 737.3 903.1 Z" fill="#5ec0d1" stroke="#ffffff" stroke-width="1.3" stroke-linejoin="round"/>
<ellipse cx="798.1" cy="900.4" rx="23" ry="6" transform="rotate(0 798.1 900.4)" fill="#009c8f" />
<path d="M864.9 895.4 C865.9 893.9 870.1 891.9 874.6 890.8 C879.1 889.6 879.5 889.0 892.0 888.4 C904.6 887.9 930.7 886.8 950.0 887.7 C969.4 888.5 991.9 891.5 1008.0 893.5 C1024.1 895.5 1035.1 897.2 1046.7 899.7 C1058.3 902.1 1077.6 906.0 1077.6 908.2 C1077.6 910.4 1061.5 912.4 1046.7 912.8 C1031.9 913.3 1008.0 912.0 988.7 910.9 C969.4 909.7 948.1 907.3 930.7 905.8 C913.3 904.4 894.6 903.0 884.3 902.0 C874.0 900.9 872.0 900.8 868.8 899.7 C865.6 898.6 864.0 896.9 864.9 895.4 Z" fill="#5ec0d1" stroke="#ffffff" stroke-width="1.3" stroke-linejoin="round"/>
<ellipse cx="969.4" cy="900.0" rx="24" ry="6" transform="rotate(0 969.4 900.0)" fill="#009c8f" />
<path d="M1083.4 904.3 C1083.9 902.6 1087.6 900.5 1091.2 899.3 C1094.7 898.0 1096.0 897.7 1104.7 897.0 C1113.4 896.2 1130.5 895.0 1143.4 895.0 C1156.3 895.0 1172.7 895.9 1182.0 897.0 C1191.4 898.0 1199.4 899.3 1199.4 901.2 C1199.4 903.1 1191.4 906.4 1182.0 908.6 C1172.7 910.7 1156.3 913.6 1143.4 914.4 C1130.5 915.1 1113.9 913.6 1104.7 912.8 C1095.5 912.0 1091.6 910.7 1088.1 909.3 C1084.5 907.9 1082.9 906.0 1083.4 904.3 Z" fill="#5ec0d1" stroke="#ffffff" stroke-width="1.3" stroke-linejoin="round"/>
<ellipse cx="1122.9" cy="905.8" rx="18" ry="5.5" transform="rotate(0 1122.9 905.8)" fill="#009c8f" />
<path d="M798.1 919.8 C798.1 918.2 802.9 916.1 806.9 914.7 C811.0 913.4 811.5 912.7 822.4 911.6 C833.4 910.6 854.6 908.3 872.7 908.2 C890.7 908.0 916.5 909.8 930.7 910.9 C944.9 912.0 952.0 913.3 957.8 914.7 C963.6 916.2 966.8 917.8 965.5 919.8 C964.2 921.7 962.3 924.6 950.0 926.3 C937.8 928.1 911.4 930.0 892.0 930.2 C872.7 930.4 848.2 928.5 834.0 927.5 C819.8 926.5 812.9 925.7 806.9 924.4 C801.0 923.1 798.1 921.4 798.1 919.8 Z" fill="#5ec0d1" stroke="#ffffff" stroke-width="1.3" stroke-linejoin="round"/>
<ellipse cx="881.6" cy="918.6" rx="23" ry="7" transform="rotate(0 881.6 918.6)" fill="#009c8f" />
<path d="M967.4 922.5 C967.1 920.8 971.6 919.6 975.2 918.6 C978.7 917.6 976.8 916.9 988.7 916.3 C1000.6 915.6 1024.1 914.7 1046.7 914.7 C1069.3 914.8 1101.5 916.4 1124.0 916.7 C1146.6 917.0 1169.8 915.9 1182.0 916.7 C1194.3 917.4 1197.5 919.0 1197.5 921.3 C1197.5 923.6 1194.3 927.5 1182.0 930.6 C1169.8 933.7 1143.4 938.2 1124.0 939.9 C1104.7 941.6 1085.4 941.6 1066.0 940.6 C1046.7 939.7 1022.9 936.5 1008.0 934.5 C993.2 932.5 983.9 930.7 977.1 928.7 C970.3 926.7 967.7 924.2 967.4 922.5 Z" fill="#5ec0d1" stroke="#ffffff" stroke-width="1.3" stroke-linejoin="round"/>
<ellipse cx="1086.5" cy="932.9" rx="24" ry="6" transform="rotate(0 1086.5 932.9)" fill="#009c8f" />
<path d="M864.2 947.6 C864.2 945.7 867.4 943.1 870.8 941.4 C874.1 939.7 874.3 939.0 884.3 937.6 C894.3 936.1 913.3 933.3 930.7 932.9 C948.1 932.5 969.4 934.1 988.7 935.2 C1008.0 936.4 1030.6 938.4 1046.7 939.9 C1062.8 941.4 1077.3 943.0 1085.4 944.1 C1093.4 945.3 1098.3 945.2 1095.0 946.8 C1091.8 948.4 1080.5 951.7 1066.0 953.8 C1051.5 955.9 1027.4 958.2 1008.0 959.2 C988.7 960.2 969.4 960.5 950.0 960.0 C930.7 959.5 905.2 957.3 892.0 956.1 C878.8 954.9 875.4 954.1 870.8 952.6 C866.1 951.2 864.2 949.5 864.2 947.6 Z" fill="#5ec0d1" stroke="#ffffff" stroke-width="1.3" stroke-linejoin="round"/>
<ellipse cx="960.9" cy="946.8" rx="28" ry="8" transform="rotate(0 960.9 946.8)" fill="#009c8f" />
<path d="M679 914.8 L726.5 919.6 L721.5 901 L764 927.5 L721.5 955 L726.5 937.4 L679 941.3 Z" fill="#009a90"/>
<path d="M1311.1 811.8 L1309.7 813.6 L1307.9 815.8 L1305.9 818.2 L1303.7 820.6 L1301.1 823.0 L1298.4 825.2 L1295.4 827.3 L1292.2 829.2 L1288.9 830.9 L1285.6 832.3 L1282.1 833.5 L1278.6 834.6 L1274.9 835.6 L1271.0 836.5 L1267.0 837.3 L1262.8 838.0 L1258.3 838.8 L1253.7 839.6 L1248.8 840.3 L1243.6 841.2 L1238.0 842.1 L1231.8 843.0 L1225.2 843.9 L1218.4 844.8 L1211.5 845.8 L1204.5 846.7 L1197.7 847.7 L1191.2 848.7 L1185.1 849.7 L1179.5 850.6 L1174.5 851.6 L1169.9 852.5 L1165.6 853.4 L1161.6 854.4 L1157.8 855.3 L1154.2 856.3 L1150.5 857.2 L1146.9 858.3 L1143.2 859.3 L1139.3 860.4 L1135.2 861.6 L1131.1 862.8 L1127.0 864.1 L1122.9 865.4 L1118.8 866.7 L1114.7 868.0 L1110.7 869.4 L1106.7 870.8 L1102.9 872.2 L1099.1 873.5 L1095.4 874.9 L1091.7 876.3 L1088.1 877.7 L1084.6 879.2 L1081.1 880.6 L1077.7 882.1 L1074.4 883.5 L1071.2 884.9 L1068.0 886.3 L1064.9 887.6 L1061.9 889.0 L1058.7 890.4 L1055.6 891.8 L1052.5 893.3 L1049.5 894.7 L1046.7 896.0 L1044.2 897.2 L1041.9 898.3 L1040.0 899.2 L1038.4 900.0 L1040.6 904.7 L1042.2 903.9 L1044.1 903.0 L1046.4 901.9 L1049.0 900.7 L1051.8 899.4 L1054.7 898.0 L1057.8 896.6 L1060.9 895.1 L1064.0 893.7 L1067.1 892.4 L1070.1 891.1 L1073.3 889.7 L1076.5 888.3 L1079.8 886.9 L1083.2 885.5 L1086.6 884.0 L1090.1 882.6 L1093.7 881.2 L1097.3 879.8 L1100.9 878.5 L1104.6 877.1 L1108.5 875.8 L1112.4 874.4 L1116.4 873.1 L1120.4 871.8 L1124.5 870.5 L1128.6 869.2 L1132.7 867.9 L1136.7 866.7 L1140.7 865.6 L1144.6 864.5 L1148.3 863.4 L1152.0 862.4 L1155.5 861.5 L1159.2 860.5 L1162.9 859.6 L1166.8 858.7 L1171.0 857.8 L1175.5 856.9 L1180.5 856.0 L1186.0 855.0 L1192.0 854.1 L1198.5 853.1 L1205.3 852.1 L1212.2 851.2 L1219.2 850.3 L1226.0 849.3 L1232.6 848.5 L1238.8 847.6 L1244.4 846.8 L1249.6 846.1 L1254.5 845.5 L1259.2 844.9 L1263.7 844.4 L1268.0 843.9 L1272.1 843.4 L1276.1 843.0 L1280.1 842.5 L1284.0 842.1 L1287.8 841.7 L1291.8 841.2 L1295.8 840.7 L1299.7 840.3 L1303.7 839.9 L1307.5 839.7 L1311.1 839.7 L1314.5 839.9 L1317.5 840.3 L1320.0 840.8 L1322.1 841.4Z M1042.0 898.1 L1041.7 898.2 L1041.4 898.4 L1041.0 898.6 L1040.6 898.8 L1040.2 899.0 L1039.7 899.2 L1039.1 899.5 L1038.4 899.8 L1037.5 900.2 L1036.7 900.7 L1035.9 901.2 L1035.3 901.6 L1034.6 901.9 L1034.0 902.1 L1033.3 902.2 L1032.5 902.1 L1031.3 901.9 L1029.8 901.4 L1028.0 900.7 L1026.1 899.9 L1024.1 899.1 L1022.1 898.2 L1020.1 897.3 L1018.1 896.5 L1016.1 895.8 L1013.9 895.0 L1011.7 894.3 L1009.6 893.5 L1007.6 892.8 L1005.7 892.2 L1004.2 891.7 L1003.0 891.3 L1001.4 896.0 L1002.5 896.4 L1004.1 896.9 L1005.9 897.6 L1007.9 898.3 L1010.0 899.1 L1012.2 899.9 L1014.3 900.7 L1016.2 901.4 L1018.1 902.1 L1020.0 903.0 L1022.0 903.9 L1024.0 904.8 L1026.0 905.7 L1028.0 906.5 L1029.8 907.1 L1031.7 907.5 L1033.4 907.6 L1035.1 907.4 L1036.5 907.0 L1037.7 906.5 L1038.7 905.9 L1039.5 905.4 L1040.1 905.1 L1040.6 904.9 L1041.3 904.6 L1041.9 904.3 L1042.6 904.0 L1043.1 903.8 L1043.6 903.6 L1044.0 903.4 L1044.3 903.2 L1044.5 903.1Z M1029.3 904.6 L1029.3 905.0 L1029.3 905.7 L1029.3 906.5 L1029.3 907.4 L1029.3 908.3 L1029.3 909.2 L1029.3 910.0 L1029.3 910.8 L1029.3 911.5 L1029.3 912.2 L1029.3 913.0 L1029.3 913.7 L1029.4 914.3 L1029.4 914.9 L1029.4 915.4 L1029.4 915.8 L1034.8 915.8 L1034.8 915.4 L1034.8 914.9 L1034.8 914.3 L1034.8 913.7 L1034.8 913.0 L1034.8 912.2 L1034.8 911.5 L1034.8 910.8 L1034.8 910.0 L1034.8 909.2 L1034.8 908.3 L1034.8 907.4 L1034.9 906.5 L1034.9 905.7 L1034.9 905.0 L1034.9 904.6Z M1004.8 892.8 L1004.1 892.0 L1003.1 891.1 L1001.9 890.1 L1000.8 889.1 L999.6 887.9 L998.5 886.6 L997.6 885.3 L996.8 883.8 L996.2 882.1 L995.6 880.0 L995.0 877.8 L994.5 875.4 L994.1 872.9 L993.8 870.5 L993.7 868.2 L993.6 866.1 L993.7 864.1 L994.0 862.1 L994.4 860.2 L995.0 858.2 L995.5 856.4 L996.1 854.6 L996.7 852.9 L997.1 851.4 L997.5 850.0 L997.8 848.8 L998.2 847.7 L998.5 846.7 L998.8 845.9 L999.0 845.1 L999.2 844.5 L999.4 843.9 L997.5 843.3 L997.3 843.8 L997.1 844.4 L996.8 845.2 L996.5 846.0 L996.1 847.0 L995.7 848.2 L995.3 849.4 L994.9 850.7 L994.4 852.2 L993.8 853.8 L993.1 855.5 L992.4 857.4 L991.7 859.4 L991.1 861.5 L990.7 863.7 L990.4 865.9 L990.3 868.2 L990.3 870.7 L990.5 873.3 L990.7 875.9 L991.1 878.5 L991.5 881.0 L992.0 883.3 L992.7 885.5 L993.5 887.5 L994.6 889.4 L995.9 891.0 L997.2 892.5 L998.4 893.8 L999.4 894.9 L1000.3 895.8 L1000.9 896.4Z M999.4 844.6 L999.6 843.9 L1000.0 843.1 L1000.3 842.1 L1000.7 841.0 L1001.2 839.8 L1001.6 838.6 L1002.0 837.5 L1002.4 836.4 L1002.8 835.4 L1003.2 834.4 L1003.6 833.3 L1004.0 832.3 L1004.3 831.3 L1004.7 830.5 L1004.9 829.7 L1005.1 829.2 L1003.8 828.6 L1003.5 829.2 L1003.2 829.9 L1002.9 830.8 L1002.5 831.7 L1002.0 832.7 L1001.6 833.8 L1001.2 834.8 L1000.8 835.8 L1000.4 836.8 L999.9 838.0 L999.4 839.1 L999.0 840.3 L998.5 841.4 L998.1 842.4 L997.8 843.2 L997.5 843.9Z M999.2 844.1 L998.7 843.7 L998.1 843.1 L997.4 842.4 L996.5 841.6 L995.6 840.7 L994.7 839.9 L993.7 839.2 L992.7 838.5 L991.7 837.9 L990.5 837.4 L989.3 836.9 L988.1 836.5 L987.0 836.1 L985.9 835.7 L985.1 835.4 L984.4 835.2 L983.9 836.6 L984.5 836.8 L985.4 837.2 L986.4 837.5 L987.5 838.0 L988.7 838.4 L989.8 838.9 L990.9 839.5 L991.8 840.0 L992.6 840.6 L993.5 841.3 L994.4 842.1 L995.2 842.9 L996.0 843.7 L996.7 844.5 L997.3 845.1 L997.8 845.6Z M995.3 863.9 L996.1 863.2 L997.1 862.3 L998.3 861.2 L999.6 860.0 L1000.9 858.8 L1002.4 857.6 L1003.8 856.6 L1005.2 855.7 L1006.7 855.0 L1008.4 854.4 L1010.2 853.8 L1012.1 853.3 L1013.9 852.8 L1015.5 852.5 L1016.9 852.1 L1018.0 851.8 L1017.6 850.3 L1016.5 850.5 L1015.2 850.8 L1013.5 851.1 L1011.6 851.5 L1009.7 852.0 L1007.8 852.5 L1005.9 853.1 L1004.2 853.8 L1002.6 854.7 L1001.0 855.8 L999.5 857.0 L998.0 858.2 L996.6 859.3 L995.4 860.4 L994.4 861.3 L993.7 861.9Z M997.6 888.5 L996.4 887.4 L994.6 885.9 L992.6 884.2 L990.4 882.3 L988.0 880.2 L985.8 878.1 L983.7 876.0 L982.0 874.0 L980.4 871.9 L978.8 869.5 L977.3 867.0 L975.9 864.5 L974.7 862.1 L973.5 859.9 L972.6 858.0 L971.8 856.7 L970.4 857.4 L971.1 858.8 L972.0 860.7 L973.1 862.9 L974.3 865.4 L975.6 868.0 L977.0 870.6 L978.6 873.1 L980.2 875.4 L982.0 877.6 L984.0 879.8 L986.3 882.1 L988.6 884.3 L990.7 886.3 L992.7 888.1 L994.4 889.6 L995.6 890.7Z M1005.6 893.9 L1006.4 893.3 L1007.5 892.4 L1008.8 891.3 L1010.2 890.2 L1011.7 889.0 L1013.3 888.0 L1014.8 887.1 L1016.3 886.4 L1017.9 885.9 L1019.7 885.5 L1021.8 885.2 L1023.8 885.0 L1025.8 884.8 L1027.6 884.7 L1029.1 884.6 L1030.3 884.5 L1030.1 882.9 L1029.0 882.9 L1027.5 882.9 L1025.7 883.0 L1023.7 883.0 L1021.6 883.2 L1019.4 883.4 L1017.4 883.7 L1015.5 884.2 L1013.7 884.9 L1012.0 885.8 L1010.2 886.9 L1008.6 888.0 L1007.1 889.1 L1005.7 890.1 L1004.6 890.9 L1003.8 891.5Z M1001.2 894.7 L1000.1 895.8 L998.6 897.2 L996.9 898.8 L994.9 900.7 L992.9 902.6 L990.8 904.4 L988.7 906.1 L986.8 907.5 L984.8 908.7 L982.8 909.8 L980.6 910.8 L978.4 911.7 L976.3 912.6 L974.2 913.5 L972.4 914.4 L970.8 915.3 L969.5 916.3 L968.4 917.3 L967.4 918.3 L966.6 919.4 L965.9 920.3 L965.4 921.1 L964.9 921.8 L964.5 922.3 L965.2 922.9 L965.7 922.3 L966.1 921.6 L966.7 920.8 L967.4 919.9 L968.1 919.0 L969.1 918.0 L970.1 917.1 L971.4 916.2 L972.9 915.4 L974.7 914.6 L976.7 913.8 L978.9 913.0 L981.2 912.2 L983.4 911.2 L985.7 910.2 L987.8 909.1 L989.9 907.7 L992.1 906.1 L994.4 904.3 L996.6 902.5 L998.6 900.8 L1000.5 899.2 L1002.0 897.9 L1003.2 897.0Z M990.7 906.9 L989.7 906.5 L988.5 905.9 L986.9 905.1 L985.2 904.3 L983.3 903.5 L981.3 902.8 L979.3 902.3 L977.4 902.0 L975.3 902.1 L973.0 902.4 L970.7 902.8 L968.3 903.4 L966.0 904.0 L964.0 904.5 L962.3 905.0 L961.0 905.3 L961.3 906.3 L962.5 906.0 L964.3 905.6 L966.3 905.0 L968.6 904.5 L970.9 904.0 L973.2 903.6 L975.4 903.4 L977.3 903.4 L979.1 903.6 L980.9 904.1 L982.8 904.9 L984.6 905.7 L986.2 906.5 L987.8 907.3 L989.1 907.9 L990.1 908.4Z" fill="#72c8f2"/>
<ellipse cx="1004.4" cy="828.7" rx="2.5" ry="2.8" fill="#72c8f2"/>
<ellipse cx="984.2" cy="835.9" rx="2.5" ry="2.8" fill="#72c8f2"/>
<ellipse cx="1017.8" cy="851.1" rx="2.5" ry="2.8" fill="#72c8f2"/>
<ellipse cx="971.1" cy="857.0" rx="2.5" ry="2.8" fill="#72c8f2"/>
<ellipse cx="1030.2" cy="883.7" rx="2.5" ry="2.8" fill="#72c8f2"/>
<circle cx="961.4" cy="905.8" r="1.8" fill="#8fd3f3"/>
<circle cx="964.9" cy="922.8" r="1.8" fill="#8fd3f3"/>
<circle cx="979.2" cy="931.3" r="1.2" fill="#9ad8f3" opacity="0.8"/>
<circle cx="1004.1" cy="936.3" r="1.2" fill="#9ad8f3" opacity="0.8"/>
</g>
<line x1="1257.6" y1="358.5" x2="1257.6" y2="921" stroke="#0b1a6d" stroke-width="3.2"/>
<path d="M1252 915.3 L1257.6 921.3 L1263.2 915.3" fill="none" stroke="#0b1a6d" stroke-width="2.8" stroke-linejoin="miter" stroke-linecap="butt"/>
<g id="labels" opacity="0.999">
<rect x="206.6" y="170.8" width="117.2" height="2.2" fill="#1d2560" opacity="0.47"/>
<rect x="206.6" y="337.59999999999997" width="117.2" height="2.2" fill="#1d2560" opacity="0.47"/>
<rect x="206.6" y="534.1" width="117.2" height="2.2" fill="#1d2560" opacity="0.47"/>
<rect x="206.6" y="742.1" width="117.2" height="2.2" fill="#1d2560" opacity="0.47"/>
<rect x="206.6" y="927.6999999999999" width="117.2" height="2.2" fill="#1d2560" opacity="0.47"/>
<text x="223.7" y="159.2" textLength="79.5" lengthAdjust="spacingAndGlyphs" font-size="28.5" font-weight="bold" font-style="italic" fill="#1d2560"  stroke="#1d2560" stroke-width="0.80" stroke-linejoin="round">Lumen</text>
<text x="185.6" y="202.2" textLength="163.5" lengthAdjust="spacingAndGlyphs" font-size="22.0" font-weight="bold" fill="#1d2560"  stroke="#1d2560" stroke-width="0.62" stroke-linejoin="round">Darmmicrobiota,</text>
<text x="175.0" y="226.7" textLength="185.9" lengthAdjust="spacingAndGlyphs" font-size="22.5" font-weight="normal" fill="#363f74" >Ziekteverwekkers,</text>
<text x="148.2" y="250.1" textLength="238.8" lengthAdjust="spacingAndGlyphs" font-size="22.5" font-weight="normal" fill="#363f74" >voedseldeeltjes, toxines</text>
<text x="145.2" y="320.5" textLength="164.6" lengthAdjust="spacingAndGlyphs" font-size="29.0" font-weight="bold" font-style="italic" fill="#1d2560"  stroke="#1d2560" stroke-width="0.81" stroke-linejoin="round">Slijmvlieslaag</text>
<text x="142.6" y="521.3" textLength="159.4" lengthAdjust="spacingAndGlyphs" font-size="29.0" font-weight="bold" font-style="italic" fill="#1d2560"  stroke="#1d2560" stroke-width="0.81" stroke-linejoin="round">Darmepitheel</text>
<text x="132.4" y="728.8" textLength="179.2" lengthAdjust="spacingAndGlyphs" font-size="29.0" font-weight="bold" font-style="italic" fill="#1d2560"  stroke="#1d2560" stroke-width="0.81" stroke-linejoin="round">Lamina Propria</text>
<text x="218.8" y="770.5" textLength="133.5" lengthAdjust="spacingAndGlyphs" font-size="21.5" font-weight="bold" fill="#1d2560"  stroke="#1d2560" stroke-width="0.60" stroke-linejoin="round">Immune cellen</text>
<text x="127.6" y="795.7" textLength="315.8" lengthAdjust="spacingAndGlyphs" font-size="22.0" font-weight="normal" fill="#363f74" >Macropagina's, T-cellen, B-cellen,</text>
<text x="128.0" y="821.6" textLength="315.5" lengthAdjust="spacingAndGlyphs" font-size="22.0" font-weight="normal" fill="#363f74" >Plasmacellen, Dendritische cellen</text>
<text x="102.8" y="912.3" textLength="231.6" lengthAdjust="spacingAndGlyphs" font-size="28.5" font-weight="bold" font-style="italic" fill="#1d2560"  stroke="#1d2560" stroke-width="0.80" stroke-linejoin="round">Muscularis mucosae</text>
</g>
<g id="maintext" opacity="0.999">
<text x="704.4" y="353.4" textLength="124.1" lengthAdjust="spacingAndGlyphs" font-size="76.5" font-weight="bold" fill="#0b1a6d" stroke="#0b1a6d" stroke-width="1.4" stroke-linejoin="round">PEA</text>
<text x="1146.0" y="326.7" textLength="225.0" lengthAdjust="spacingAndGlyphs" font-size="24.0" font-weight="normal" fill="#0b1a6d" >richting van opname van</text>
<text x="1183.0" y="352.0" textLength="149.0" lengthAdjust="spacingAndGlyphs" font-size="24.0" font-weight="normal" fill="#0b1a6d" >voedingsstoffen</text>
<text x="674.6" y="727.3" textLength="396.2" lengthAdjust="spacingAndGlyphs" font-size="29.0" font-weight="bold" fill="#0b1a6d"  stroke="#0b1a6d" stroke-width="0.81" stroke-linejoin="round">ANTI-INFLAMMATOIRE RESPONSE</text>
<text x="708.4" y="757.9" textLength="335.0" lengthAdjust="spacingAndGlyphs" font-size="26.5" font-weight="bold" fill="#0b1a6d"  stroke="#0b1a6d" stroke-width="0.74" stroke-linejoin="round">Remming van mestcelactivatie</text>
<text x="448.5" y="942.0" textLength="221.6" lengthAdjust="spacingAndGlyphs" font-size="53.0" font-weight="bold" fill="#0b1a6d"  stroke="#0b1a6d" stroke-width="1.48" stroke-linejoin="round">L-menthol</text>
<text x="445.4" y="1017.7" textLength="565.6" lengthAdjust="spacingAndGlyphs" font-size="32.0" font-weight="bold" fill="#0b1a6d"  stroke="#0b1a6d" stroke-width="0.90" stroke-linejoin="round">ONTSPANNING VAN DE GLADDE SPIEREN</text>
<text x="422.6" y="1051.7" textLength="632.0" lengthAdjust="spacingAndGlyphs" font-size="26.0" font-weight="bold" fill="#0b1a6d"  stroke="#0b1a6d" stroke-width="0.73" stroke-linejoin="round">het verminderen van spierspasmen en het verminderen van</text>
<text x="593.4" y="1084.0" textLength="290.6" lengthAdjust="spacingAndGlyphs" font-size="26.0" font-weight="bold" fill="#0b1a6d"  stroke="#0b1a6d" stroke-width="0.73" stroke-linejoin="round">viscerale hypersensitiviteit</text>
</g>
</svg>
</body></html>
